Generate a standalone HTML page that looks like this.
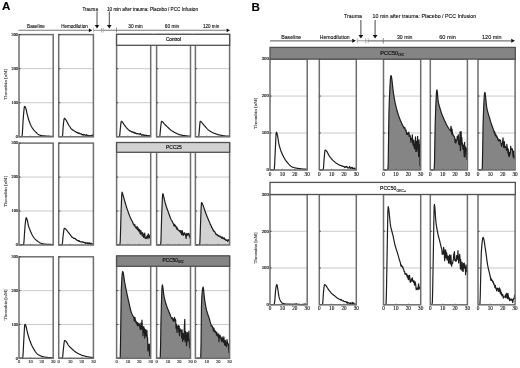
<!DOCTYPE html>
<html><head><meta charset="utf-8"><title>Thrombin generation</title>
<style>html,body{margin:0;padding:0;background:#fff;}svg{display:block;}</style>
</head><body>
<svg width="520" height="368" viewBox="0 0 520 368">
<rect x="0" y="0" width="520" height="368" fill="#fff"/>
<text x="2" y="10.3" font-size="11.6" font-family="'Liberation Sans', Arial, sans-serif" font-weight="bold" fill="#000" text-anchor="start" stroke="#000" stroke-width="0.12">A</text>
<line x1="18.5" y1="30.3" x2="89" y2="30.3" stroke="#777" stroke-width="1.1"/>
<path d="M88.9 28.4 L88.9 32.2 L92.3 30.3 Z" fill="#111"/>
<line x1="93.6" y1="27.6" x2="93.6" y2="32.4" stroke="#888" stroke-width="0.6"/>
<line x1="93.6" y1="30.3" x2="103.3" y2="30.3" stroke="#888" stroke-width="0.9"/>
<line x1="101.5" y1="28.0" x2="101.5" y2="32.6" stroke="#888" stroke-width="0.6"/>
<line x1="103.2" y1="28.0" x2="103.2" y2="32.6" stroke="#888" stroke-width="0.6"/>
<line x1="103.3" y1="30.3" x2="226.8" y2="30.3" stroke="#777" stroke-width="1.1"/>
<line x1="116.5" y1="27.5" x2="116.5" y2="32.5" stroke="#666" stroke-width="0.7"/>
<path d="M226.6 28.4 L226.6 32.2 L230 30.3 Z" fill="#111"/>
<line x1="97" y1="11.5" x2="97" y2="25.2" stroke="#333" stroke-width="0.9"/>
<path d="M94.7 24.9 L99.3 24.9 L97 28.4 Z" fill="#111"/>
<line x1="109.3" y1="11.5" x2="109.3" y2="25.3" stroke="#333" stroke-width="0.9"/>
<path d="M107 25 L111.6 25 L109.3 28.5 Z" fill="#111"/>
<text x="82.5" y="10.5" font-size="4.9" font-family="'Liberation Sans', Arial, sans-serif" font-weight="normal" fill="#111" text-anchor="start" textLength="15.4" lengthAdjust="spacingAndGlyphs" stroke="#111" stroke-width="0.12">Trauma</text>
<text x="107" y="10.6" font-size="4.9" font-family="'Liberation Sans', Arial, sans-serif" font-weight="normal" fill="#111" text-anchor="start" textLength="91" lengthAdjust="spacingAndGlyphs" stroke="#111" stroke-width="0.12">10 min after trauma: Placebo / PCC Infusion</text>
<text x="27.1" y="28.1" font-size="4.9" font-family="'Liberation Sans', Arial, sans-serif" font-weight="normal" fill="#111" text-anchor="start" textLength="17.7" lengthAdjust="spacingAndGlyphs" stroke="#111" stroke-width="0.12">Baseline</text>
<text x="61.2" y="28.1" font-size="4.9" font-family="'Liberation Sans', Arial, sans-serif" font-weight="normal" fill="#111" text-anchor="start" textLength="26.5" lengthAdjust="spacingAndGlyphs" stroke="#111" stroke-width="0.12">Hemodilution</text>
<text x="128.3" y="27.9" font-size="4.9" font-family="'Liberation Sans', Arial, sans-serif" font-weight="normal" fill="#111" text-anchor="start" textLength="14.3" lengthAdjust="spacingAndGlyphs" stroke="#111" stroke-width="0.12">30 min</text>
<text x="164.8" y="27.9" font-size="4.9" font-family="'Liberation Sans', Arial, sans-serif" font-weight="normal" fill="#111" text-anchor="start" textLength="14.4" lengthAdjust="spacingAndGlyphs" stroke="#111" stroke-width="0.12">60 min</text>
<text x="203" y="27.9" font-size="4.9" font-family="'Liberation Sans', Arial, sans-serif" font-weight="normal" fill="#111" text-anchor="start" textLength="16.2" lengthAdjust="spacingAndGlyphs" stroke="#111" stroke-width="0.12">120 min</text>
<line x1="19" y1="102.73" x2="53.2" y2="102.73" stroke="#bcbcbc" stroke-width="0.8"/>
<line x1="19" y1="68.67" x2="53.2" y2="68.67" stroke="#bcbcbc" stroke-width="0.8"/>
<line x1="30.4" y1="136.8" x2="30.4" y2="135.5" stroke="#555" stroke-width="0.6"/>
<line x1="41.8" y1="136.8" x2="41.8" y2="135.5" stroke="#555" stroke-width="0.6"/>
<path d="M19.5 136.6 L19.85 136.6 L20.2 136.59 L20.55 136.58 L20.9 136.57 L21.25 136.55 L21.6 136.53 L21.95 136.5 L22.3 134.49 L22.65 128.75 L23 121.99 L23.35 116.95 L23.7 112.89 L24.05 109.16 L24.4 106.73 L24.75 106.34 L25.1 106.71 L25.45 107.31 L25.8 108.12 L26.15 109.5 L26.5 111.2 L26.85 112.88 L27.2 114.28 L27.55 115.63 L27.9 116.97 L28.25 118.25 L28.6 119.46 L28.95 120.58 L29.3 121.57 L29.65 122.5 L30 123.39 L30.35 124.23 L30.7 125.02 L31.05 125.77 L31.4 126.45 L31.75 127.08 L32.1 127.66 L32.45 128.19 L32.8 128.69 L33.15 129.16 L33.5 129.6 L33.85 130.03 L34.2 130.43 L34.55 130.81 L34.9 131.18 L35.25 131.55 L35.6 131.9 L35.95 132.27 L36.3 132.63 L36.65 132.99 L37 133.34 L37.35 133.67 L37.7 133.98 L38.05 134.25 L38.4 134.49 L38.75 134.69 L39.1 134.84 L39.45 134.97 L39.8 135.09 L40.15 135.21 L40.5 135.31 L40.85 135.41 L41.2 135.5 L41.55 135.58 L41.9 135.65 L42.25 135.71 L42.6 135.76 L42.95 135.8 L43.3 135.83 L43.65 135.86 L44 135.89 L44.35 135.92 L44.7 135.95 L45.05 135.97 L45.4 136 L45.75 136.03 L46.1 136.05 L46.45 136.07 L46.8 136.1 L47.15 136.12 L47.5 136.14 L47.85 136.16 L48.2 136.18 L48.55 136.19 L48.9 136.21 L49.25 136.22 L49.6 136.24 L49.95 136.25 L50.3 136.26 L50.65 136.27 L51 136.28 L51.35 136.28 L51.7 136.29 L52.05 136.29 L52.4 136.3 L52.75 136.3 L53 136.3" fill="none" stroke="#1e1e1e" stroke-width="1.2" stroke-linejoin="round"/>
<rect x="19" y="34.6" width="34.2" height="102.2" fill="none" stroke="#6e6e6e" stroke-width="1.5"/>
<line x1="19" y1="102.73" x2="20.6" y2="102.73" stroke="#333" stroke-width="0.8"/>
<line x1="19" y1="68.67" x2="20.6" y2="68.67" stroke="#333" stroke-width="0.8"/>
<line x1="19" y1="34.6" x2="20.6" y2="34.6" stroke="#333" stroke-width="0.8"/>
<text x="18" y="138.1" font-size="4.3" font-family="'Liberation Serif', 'Times New Roman', serif" font-weight="normal" fill="#222" text-anchor="end" stroke="#222" stroke-width="0.18">0</text>
<text x="18" y="104.03" font-size="4.3" font-family="'Liberation Serif', 'Times New Roman', serif" font-weight="normal" fill="#222" text-anchor="end" stroke="#222" stroke-width="0.18">100</text>
<text x="18" y="69.97" font-size="4.3" font-family="'Liberation Serif', 'Times New Roman', serif" font-weight="normal" fill="#222" text-anchor="end" stroke="#222" stroke-width="0.18">200</text>
<text x="18" y="35.9" font-size="4.3" font-family="'Liberation Serif', 'Times New Roman', serif" font-weight="normal" fill="#222" text-anchor="end" stroke="#222" stroke-width="0.18">300</text>
<line x1="58.7" y1="102.73" x2="93.4" y2="102.73" stroke="#bcbcbc" stroke-width="0.8"/>
<line x1="58.7" y1="68.67" x2="93.4" y2="68.67" stroke="#bcbcbc" stroke-width="0.8"/>
<line x1="70.27" y1="136.8" x2="70.27" y2="135.5" stroke="#555" stroke-width="0.6"/>
<line x1="81.83" y1="136.8" x2="81.83" y2="135.5" stroke="#555" stroke-width="0.6"/>
<path d="M59.2 136.6 L59.55 136.6 L59.9 136.59 L60.25 136.59 L60.6 136.58 L60.95 136.56 L61.3 136.53 L61.65 136.51 L62 136.47 L62.35 136.42 L62.7 134.73 L63.05 128.18 L63.4 124.21 L63.75 121.12 L64.1 118.9 L64.45 118.2 L64.8 118.4 L65.15 118.8 L65.5 119.27 L65.85 119.74 L66.2 120.29 L66.55 120.89 L66.9 121.53 L67.25 122.18 L67.6 122.9 L67.95 123.63 L68.3 124.34 L68.65 124.95 L69 125.49 L69.35 126 L69.7 126.51 L70.05 127.03 L70.4 127.59 L70.75 128.15 L71.1 128.65 L71.45 129.07 L71.8 129.44 L72.15 129.36 L72.5 129.96 L72.85 130.11 L73.2 130.1 L73.55 130.41 L73.9 130.7 L74.25 130.77 L74.6 131.12 L74.95 131.4 L75.3 131.67 L75.65 131.7 L76 132.09 L76.35 132.4 L76.7 132.41 L77.05 132.3 L77.4 132.82 L77.75 132.66 L78.1 133.23 L78.45 132.91 L78.8 133.5 L79.15 133.32 L79.5 133.19 L79.85 133.66 L80.2 133.88 L80.55 133.91 L80.9 133.76 L81.25 133.84 L81.6 134.45 L81.95 134.46 L82.3 134.67 L82.65 134.86 L83 134.27 L83.35 134.87 L83.7 135.19 L84.05 134.78 L84.4 134.58 L84.75 135.01 L85.1 135.04 L85.45 135.29 L85.8 134.9 L86.15 134.66 L86.5 135.25 L86.85 135.22 L87.2 135.8 L87.55 135.53 L87.9 135.24 L88.25 135.59 L88.6 136.19 L88.95 136.01 L89.3 135.58 L89.65 135.7 L90 135.98 L90.35 135.76 L90.7 135.97 L91.05 135.95 L91.4 135.69 L91.75 135.65 L92.1 136.15 L92.45 134.93 L92.8 135.76 L93 135.73" fill="none" stroke="#1e1e1e" stroke-width="1.2" stroke-linejoin="round"/>
<rect x="58.7" y="34.6" width="34.7" height="102.2" fill="none" stroke="#6e6e6e" stroke-width="1.5"/>
<line x1="58.7" y1="102.73" x2="60.3" y2="102.73" stroke="#333" stroke-width="0.8"/>
<line x1="58.7" y1="68.67" x2="60.3" y2="68.67" stroke="#333" stroke-width="0.8"/>
<line x1="58.7" y1="34.6" x2="60.3" y2="34.6" stroke="#333" stroke-width="0.8"/>
<line x1="116.6" y1="102.73" x2="150.7" y2="102.73" stroke="#bcbcbc" stroke-width="0.8"/>
<line x1="116.6" y1="68.67" x2="150.7" y2="68.67" stroke="#bcbcbc" stroke-width="0.8"/>
<line x1="127.97" y1="136.8" x2="127.97" y2="135.5" stroke="#555" stroke-width="0.6"/>
<line x1="139.33" y1="136.8" x2="139.33" y2="135.5" stroke="#555" stroke-width="0.6"/>
<path d="M117.1 136.6 L117.45 136.6 L117.8 136.59 L118.15 136.58 L118.5 136.57 L118.85 136.55 L119.2 136.53 L119.55 136.44 L119.9 133.77 L120.25 129.49 L120.6 126.15 L120.95 122.86 L121.3 121.3 L121.65 121.42 L122 121.71 L122.35 122.05 L122.7 122.47 L123.05 123 L123.4 123.58 L123.75 124.14 L124.1 124.63 L124.45 125.09 L124.8 125.56 L125.15 126.02 L125.5 126.47 L125.85 126.92 L126.2 127.35 L126.55 127.77 L126.9 128.18 L127.25 128.56 L127.6 128.93 L127.95 129.27 L128.3 129.64 L128.65 129.94 L129 130.1 L129.35 130.4 L129.7 130.6 L130.05 131.1 L130.4 130.97 L130.75 131.29 L131.1 131.51 L131.45 131.98 L131.8 131.66 L132.15 131.76 L132.5 131.94 L132.85 132.31 L133.2 132.21 L133.55 132.66 L133.9 132.24 L134.25 132.96 L134.6 133.13 L134.95 132.61 L135.3 133.16 L135.65 133.42 L136 133.29 L136.35 133.5 L136.7 133.92 L137.05 133.46 L137.4 133.54 L137.75 133.52 L138.1 134.01 L138.45 133.83 L138.8 133.88 L139.15 134 L139.5 134.14 L139.85 133.77 L140.2 133.67 L140.55 133.49 L140.9 134.74 L141.25 134.61 L141.6 135.13 L141.95 134.85 L142.3 134.69 L142.65 135.17 L143 135.03 L143.35 134.75 L143.7 134.91 L144.05 135.64 L144.4 135.34 L144.75 135.3 L145.1 135.19 L145.45 135.24 L145.8 135.65 L146.15 135.26 L146.5 135.25 L146.85 135.48 L147.2 135.48 L147.55 135.87 L147.9 136.16 L148.25 135.64 L148.6 136.4 L148.95 135.7 L149.3 136.12 L149.65 135.66 L150 135.85 L150.2 135.99" fill="none" stroke="#1e1e1e" stroke-width="1.2" stroke-linejoin="round"/>
<rect x="116.6" y="34.6" width="34.1" height="102.2" fill="none" stroke="#6e6e6e" stroke-width="1.5"/>
<line x1="116.6" y1="102.73" x2="118.2" y2="102.73" stroke="#333" stroke-width="0.8"/>
<line x1="116.6" y1="68.67" x2="118.2" y2="68.67" stroke="#333" stroke-width="0.8"/>
<line x1="116.6" y1="34.6" x2="118.2" y2="34.6" stroke="#333" stroke-width="0.8"/>
<line x1="156.6" y1="102.73" x2="190.5" y2="102.73" stroke="#bcbcbc" stroke-width="0.8"/>
<line x1="156.6" y1="68.67" x2="190.5" y2="68.67" stroke="#bcbcbc" stroke-width="0.8"/>
<line x1="167.9" y1="136.8" x2="167.9" y2="135.5" stroke="#555" stroke-width="0.6"/>
<line x1="179.2" y1="136.8" x2="179.2" y2="135.5" stroke="#555" stroke-width="0.6"/>
<path d="M157.1 136.6 L157.45 136.6 L157.8 136.59 L158.15 136.59 L158.5 136.58 L158.85 136.56 L159.2 136.54 L159.55 136.51 L159.9 135.69 L160.25 131.88 L160.6 128 L160.95 124.95 L161.3 122.25 L161.65 121.3 L162 121.41 L162.35 121.62 L162.7 121.88 L163.05 122.25 L163.4 122.72 L163.75 123.19 L164.1 123.61 L164.45 123.99 L164.8 124.35 L165.15 124.71 L165.5 125.06 L165.85 125.4 L166.2 125.74 L166.55 126.07 L166.9 126.4 L167.25 126.74 L167.6 127.08 L167.95 127.42 L168.3 127.77 L168.65 128.11 L169 128.45 L169.35 128.78 L169.7 129.1 L170.05 129.42 L170.4 129.72 L170.75 130.01 L171.1 130.28 L171.45 130.54 L171.8 130.78 L172.15 131 L172.5 131.22 L172.85 131.44 L173.2 131.64 L173.55 131.84 L173.9 132.03 L174.25 132.21 L174.6 132.4 L174.95 132.57 L175.3 132.75 L175.65 132.93 L176 133.11 L176.35 133.29 L176.7 133.47 L177.05 133.64 L177.4 133.81 L177.75 133.97 L178.1 134.13 L178.45 134.28 L178.8 134.41 L179.15 134.54 L179.5 134.66 L179.85 134.76 L180.2 134.85 L180.55 134.93 L180.9 135.01 L181.25 135.09 L181.6 135.16 L181.95 135.23 L182.3 135.29 L182.65 135.36 L183 135.41 L183.35 135.47 L183.7 135.52 L184.05 135.57 L184.4 135.62 L184.75 135.67 L185.1 135.71 L185.45 135.76 L185.8 135.8 L186.15 135.84 L186.5 135.88 L186.85 135.92 L187.2 135.96 L187.55 136 L187.9 136.03 L188.25 136.07 L188.6 136.1 L188.95 136.13 L189.3 136.15 L189.65 136.18 L190 136.2 L190 136.2" fill="none" stroke="#1e1e1e" stroke-width="1.2" stroke-linejoin="round"/>
<rect x="156.6" y="34.6" width="33.9" height="102.2" fill="none" stroke="#6e6e6e" stroke-width="1.5"/>
<line x1="156.6" y1="102.73" x2="158.2" y2="102.73" stroke="#333" stroke-width="0.8"/>
<line x1="156.6" y1="68.67" x2="158.2" y2="68.67" stroke="#333" stroke-width="0.8"/>
<line x1="156.6" y1="34.6" x2="158.2" y2="34.6" stroke="#333" stroke-width="0.8"/>
<line x1="195.4" y1="102.73" x2="229.6" y2="102.73" stroke="#bcbcbc" stroke-width="0.8"/>
<line x1="195.4" y1="68.67" x2="229.6" y2="68.67" stroke="#bcbcbc" stroke-width="0.8"/>
<line x1="206.8" y1="136.8" x2="206.8" y2="135.5" stroke="#555" stroke-width="0.6"/>
<line x1="218.2" y1="136.8" x2="218.2" y2="135.5" stroke="#555" stroke-width="0.6"/>
<path d="M195.9 136.6 L196.25 136.6 L196.6 136.6 L196.95 136.59 L197.3 136.58 L197.65 136.57 L198 136.55 L198.35 136.53 L198.7 136.5 L199.05 133.9 L199.4 129.13 L199.75 125.01 L200.1 121.55 L200.45 121.36 L200.8 121.58 L201.15 121.86 L201.5 122.17 L201.85 122.56 L202.2 123 L202.55 123.45 L202.9 123.89 L203.25 124.28 L203.6 124.69 L203.95 125.09 L204.3 125.51 L204.65 125.92 L205 126.34 L205.35 126.75 L205.7 127.16 L206.05 127.56 L206.4 127.95 L206.75 128.34 L207.1 128.71 L207.45 129.07 L207.8 129.41 L208.15 129.73 L208.5 130.03 L208.85 130.31 L209.2 130.57 L209.55 130.82 L209.9 131.05 L210.25 131.28 L210.6 131.49 L210.95 131.7 L211.3 131.9 L211.65 132.09 L212 132.28 L212.35 132.45 L212.7 132.62 L213.05 132.79 L213.4 132.95 L213.75 133.1 L214.1 133.24 L214.45 133.38 L214.8 133.52 L215.15 133.65 L215.5 133.78 L215.85 133.9 L216.2 134.02 L216.55 134.13 L216.9 134.24 L217.25 134.35 L217.6 134.45 L217.95 134.55 L218.3 134.65 L218.65 134.74 L219 134.82 L219.35 134.91 L219.7 134.99 L220.05 135.08 L220.4 135.16 L220.75 135.24 L221.1 135.31 L221.45 135.39 L221.8 135.46 L222.15 135.52 L222.5 135.58 L222.85 135.64 L223.2 135.7 L223.55 135.74 L223.9 135.79 L224.25 135.83 L224.6 135.87 L224.95 135.9 L225.3 135.94 L225.65 135.98 L226 136.01 L226.35 136.04 L226.7 136.07 L227.05 136.1 L227.4 136.12 L227.75 136.15 L228.1 136.16 L228.45 136.18 L228.8 136.19 L229.1 136.2" fill="none" stroke="#1e1e1e" stroke-width="1.2" stroke-linejoin="round"/>
<rect x="195.4" y="34.6" width="34.2" height="102.2" fill="none" stroke="#6e6e6e" stroke-width="1.5"/>
<line x1="195.4" y1="102.73" x2="197" y2="102.73" stroke="#333" stroke-width="0.8"/>
<line x1="195.4" y1="68.67" x2="197" y2="68.67" stroke="#333" stroke-width="0.8"/>
<line x1="195.4" y1="34.6" x2="197" y2="34.6" stroke="#333" stroke-width="0.8"/>
<text transform="translate(7.3 84.3) rotate(-90)" font-size="4.7" font-family="'Liberation Serif', 'Times New Roman', serif" fill="#333" stroke="#333" stroke-width="0.1" text-anchor="middle" textLength="31" lengthAdjust="spacingAndGlyphs">Thrombin [nM]</text>
<line x1="19" y1="211.03" x2="53.2" y2="211.03" stroke="#bcbcbc" stroke-width="0.8"/>
<line x1="19" y1="177.07" x2="53.2" y2="177.07" stroke="#bcbcbc" stroke-width="0.8"/>
<line x1="30.4" y1="245" x2="30.4" y2="243.7" stroke="#555" stroke-width="0.6"/>
<line x1="41.8" y1="245" x2="41.8" y2="243.7" stroke="#555" stroke-width="0.6"/>
<path d="M19.5 244.8 L19.85 244.8 L20.2 244.8 L20.55 244.79 L20.9 244.78 L21.25 244.77 L21.6 244.76 L21.95 244.74 L22.3 244.72 L22.65 244.69 L23 244.66 L23.35 244.63 L23.7 244.36 L24.05 240.79 L24.4 235.08 L24.75 229.98 L25.1 225.51 L25.45 222 L25.8 219.26 L26.15 217.73 L26.5 217.99 L26.85 218.85 L27.2 219.98 L27.55 221.31 L27.9 223.12 L28.25 224.81 L28.6 226.06 L28.95 227.2 L29.3 228.24 L29.65 229.2 L30 230.11 L30.35 230.98 L30.7 231.82 L31.05 232.62 L31.4 233.37 L31.75 234.09 L32.1 234.76 L32.45 235.39 L32.8 235.98 L33.15 236.54 L33.5 237.08 L33.85 237.58 L34.2 238.04 L34.55 238.46 L34.9 238.84 L35.25 239.19 L35.6 239.52 L35.95 239.84 L36.3 240.14 L36.65 240.44 L37 240.75 L37.35 241.05 L37.7 241.35 L38.05 241.62 L38.4 241.87 L38.75 242.09 L39.1 242.3 L39.45 242.51 L39.8 242.7 L40.15 242.89 L40.5 243.06 L40.85 243.21 L41.2 243.35 L41.55 243.46 L41.9 243.55 L42.25 243.64 L42.6 243.72 L42.95 243.79 L43.3 243.86 L43.65 243.93 L44 243.99 L44.35 244.04 L44.7 244.09 L45.05 244.13 L45.4 244.17 L45.75 244.2 L46.1 244.22 L46.45 244.25 L46.8 244.27 L47.15 244.29 L47.5 244.31 L47.85 244.33 L48.2 244.35 L48.55 244.37 L48.9 244.39 L49.25 244.41 L49.6 244.42 L49.95 244.44 L50.3 244.45 L50.65 244.46 L51 244.47 L51.35 244.48 L51.7 244.49 L52.05 244.49 L52.4 244.5 L52.75 244.5 L53 244.5" fill="none" stroke="#1e1e1e" stroke-width="1.2" stroke-linejoin="round"/>
<rect x="19" y="143.1" width="34.2" height="101.9" fill="none" stroke="#6e6e6e" stroke-width="1.5"/>
<line x1="19" y1="211.03" x2="20.6" y2="211.03" stroke="#333" stroke-width="0.8"/>
<line x1="19" y1="177.07" x2="20.6" y2="177.07" stroke="#333" stroke-width="0.8"/>
<line x1="19" y1="143.1" x2="20.6" y2="143.1" stroke="#333" stroke-width="0.8"/>
<text x="18" y="246.3" font-size="4.3" font-family="'Liberation Serif', 'Times New Roman', serif" font-weight="normal" fill="#222" text-anchor="end" stroke="#222" stroke-width="0.18">0</text>
<text x="18" y="212.33" font-size="4.3" font-family="'Liberation Serif', 'Times New Roman', serif" font-weight="normal" fill="#222" text-anchor="end" stroke="#222" stroke-width="0.18">100</text>
<text x="18" y="178.37" font-size="4.3" font-family="'Liberation Serif', 'Times New Roman', serif" font-weight="normal" fill="#222" text-anchor="end" stroke="#222" stroke-width="0.18">200</text>
<text x="18" y="144.4" font-size="4.3" font-family="'Liberation Serif', 'Times New Roman', serif" font-weight="normal" fill="#222" text-anchor="end" stroke="#222" stroke-width="0.18">300</text>
<line x1="58.7" y1="211.03" x2="93.4" y2="211.03" stroke="#bcbcbc" stroke-width="0.8"/>
<line x1="58.7" y1="177.07" x2="93.4" y2="177.07" stroke="#bcbcbc" stroke-width="0.8"/>
<line x1="70.27" y1="245" x2="70.27" y2="243.7" stroke="#555" stroke-width="0.6"/>
<line x1="81.83" y1="245" x2="81.83" y2="243.7" stroke="#555" stroke-width="0.6"/>
<path d="M59.2 244.8 L59.55 244.8 L59.9 244.8 L60.25 244.79 L60.6 244.78 L60.95 244.77 L61.3 244.75 L61.65 244.73 L62 244.71 L62.35 243.73 L62.7 240.25 L63.05 236.3 L63.4 233.45 L63.75 230.66 L64.1 228.67 L64.45 228.32 L64.8 228.47 L65.15 228.7 L65.5 228.94 L65.85 229.26 L66.2 229.63 L66.55 230.05 L66.9 230.5 L67.25 230.96 L67.6 231.43 L67.95 231.89 L68.3 232.32 L68.65 232.77 L69 233.23 L69.35 233.71 L69.7 234.19 L70.05 234.54 L70.4 234.88 L70.75 235.53 L71.1 236.05 L71.45 236.28 L71.8 236.92 L72.15 237.43 L72.5 237.41 L72.85 237.55 L73.2 238 L73.55 238.18 L73.9 238.49 L74.25 238.12 L74.6 238.43 L74.95 238.61 L75.3 238.63 L75.65 239.19 L76 239.49 L76.35 239.44 L76.7 240.22 L77.05 240.28 L77.4 240.34 L77.75 240.41 L78.1 240.92 L78.45 240.53 L78.8 241.26 L79.15 241.45 L79.5 240.87 L79.85 241.62 L80.2 241.65 L80.55 241.96 L80.9 241.73 L81.25 241.85 L81.6 241.93 L81.95 241.64 L82.3 242.13 L82.65 241.94 L83 242.18 L83.35 241.91 L83.7 242.5 L84.05 242.49 L84.4 242.47 L84.75 242.83 L85.1 243.17 L85.45 243.39 L85.8 242.43 L86.15 243.21 L86.5 243.13 L86.85 243 L87.2 242.8 L87.55 243.52 L87.9 242.85 L88.25 243.49 L88.6 243.8 L88.95 242.83 L89.3 243.3 L89.65 242.99 L90 243.66 L90.35 244.01 L90.7 244.25 L91.05 243.12 L91.4 243.63 L91.75 244.1 L92.1 244.45 L92.45 244.13 L92.8 243.84 L93 244.33" fill="none" stroke="#1e1e1e" stroke-width="1.2" stroke-linejoin="round"/>
<rect x="58.7" y="143.1" width="34.7" height="101.9" fill="none" stroke="#6e6e6e" stroke-width="1.5"/>
<line x1="58.7" y1="211.03" x2="60.3" y2="211.03" stroke="#333" stroke-width="0.8"/>
<line x1="58.7" y1="177.07" x2="60.3" y2="177.07" stroke="#333" stroke-width="0.8"/>
<line x1="58.7" y1="143.1" x2="60.3" y2="143.1" stroke="#333" stroke-width="0.8"/>
<line x1="116.6" y1="211.03" x2="150.7" y2="211.03" stroke="#bcbcbc" stroke-width="0.8"/>
<line x1="116.6" y1="177.07" x2="150.7" y2="177.07" stroke="#bcbcbc" stroke-width="0.8"/>
<path d="M117.1 244.8 L117.45 244.8 L117.8 244.8 L118.15 244.79 L118.5 244.78 L118.85 244.77 L119.2 244.75 L119.55 244.73 L119.9 244.71 L120.25 241.26 L120.6 229.16 L120.95 216.38 L121.3 206.28 L121.65 196.57 L122 192.2 L122.35 192.74 L122.7 193.94 L123.05 195.16 L123.4 196.34 L123.75 197.62 L124.1 198.9 L124.45 200.11 L124.8 201.31 L125.15 202.52 L125.5 203.71 L125.85 204.9 L126.2 206.06 L126.55 207.2 L126.9 208.31 L127.25 209.39 L127.6 210.41 L127.95 211.4 L128.3 212.37 L128.65 213.32 L129 214.25 L129.35 215.15 L129.7 216.02 L130.05 216.87 L130.4 217.68 L130.75 218.46 L131.1 219.2 L131.45 219.91 L131.8 220.59 L132.15 221.24 L132.5 221.87 L132.85 222.48 L133.2 224.03 L133.55 224.01 L133.9 224.41 L134.25 225.8 L134.6 224.82 L134.95 224.89 L135.3 226.89 L135.65 227.74 L136 227.56 L136.35 227.38 L136.7 228.69 L137.05 226.4 L137.4 229.75 L137.75 229.75 L138.1 227.84 L138.45 230.45 L138.8 229.69 L139.15 231.74 L139.5 229.37 L139.85 231.12 L140.2 233.83 L140.55 234.14 L140.9 230.54 L141.25 232.67 L141.6 233.94 L141.95 233.03 L142.3 236.06 L142.65 232.61 L143 235.4 L143.35 234 L143.7 237.44 L144.05 235.66 L144.4 235.35 L144.75 233.16 L145.1 238.33 L145.45 237.48 L145.8 237.83 L146.15 238.64 L146.5 237.58 L146.85 236.06 L147.2 236.38 L147.55 235.56 L147.9 238.76 L148.25 233.75 L148.6 235.76 L148.95 236.19 L149.3 237.48 L149.65 237.87 L150 235.2 L150.2 234.29 L150.2 245 L117.1 245 Z" fill="#d2d2d2" stroke="none"/>
<line x1="127.97" y1="245" x2="127.97" y2="243.7" stroke="#555" stroke-width="0.6"/>
<line x1="139.33" y1="245" x2="139.33" y2="243.7" stroke="#555" stroke-width="0.6"/>
<path d="M117.1 244.8 L117.45 244.8 L117.8 244.8 L118.15 244.79 L118.5 244.78 L118.85 244.77 L119.2 244.75 L119.55 244.73 L119.9 244.71 L120.25 241.26 L120.6 229.16 L120.95 216.38 L121.3 206.28 L121.65 196.57 L122 192.2 L122.35 192.74 L122.7 193.94 L123.05 195.16 L123.4 196.34 L123.75 197.62 L124.1 198.9 L124.45 200.11 L124.8 201.31 L125.15 202.52 L125.5 203.71 L125.85 204.9 L126.2 206.06 L126.55 207.2 L126.9 208.31 L127.25 209.39 L127.6 210.41 L127.95 211.4 L128.3 212.37 L128.65 213.32 L129 214.25 L129.35 215.15 L129.7 216.02 L130.05 216.87 L130.4 217.68 L130.75 218.46 L131.1 219.2 L131.45 219.91 L131.8 220.59 L132.15 221.24 L132.5 221.87 L132.85 222.48 L133.2 224.03 L133.55 224.01 L133.9 224.41 L134.25 225.8 L134.6 224.82 L134.95 224.89 L135.3 226.89 L135.65 227.74 L136 227.56 L136.35 227.38 L136.7 228.69 L137.05 226.4 L137.4 229.75 L137.75 229.75 L138.1 227.84 L138.45 230.45 L138.8 229.69 L139.15 231.74 L139.5 229.37 L139.85 231.12 L140.2 233.83 L140.55 234.14 L140.9 230.54 L141.25 232.67 L141.6 233.94 L141.95 233.03 L142.3 236.06 L142.65 232.61 L143 235.4 L143.35 234 L143.7 237.44 L144.05 235.66 L144.4 235.35 L144.75 233.16 L145.1 238.33 L145.45 237.48 L145.8 237.83 L146.15 238.64 L146.5 237.58 L146.85 236.06 L147.2 236.38 L147.55 235.56 L147.9 238.76 L148.25 233.75 L148.6 235.76 L148.95 236.19 L149.3 237.48 L149.65 237.87 L150 235.2 L150.2 234.29" fill="none" stroke="#1e1e1e" stroke-width="1.2" stroke-linejoin="round"/>
<rect x="116.6" y="143.1" width="34.1" height="101.9" fill="none" stroke="#6e6e6e" stroke-width="1.5"/>
<line x1="116.6" y1="211.03" x2="118.2" y2="211.03" stroke="#333" stroke-width="0.8"/>
<line x1="116.6" y1="177.07" x2="118.2" y2="177.07" stroke="#333" stroke-width="0.8"/>
<line x1="116.6" y1="143.1" x2="118.2" y2="143.1" stroke="#333" stroke-width="0.8"/>
<line x1="156.6" y1="211.03" x2="190.5" y2="211.03" stroke="#bcbcbc" stroke-width="0.8"/>
<line x1="156.6" y1="177.07" x2="190.5" y2="177.07" stroke="#bcbcbc" stroke-width="0.8"/>
<path d="M157.1 244.8 L157.45 244.8 L157.8 244.8 L158.15 244.79 L158.5 244.79 L158.85 244.78 L159.2 244.77 L159.55 244.76 L159.9 244.75 L160.25 244.73 L160.6 244.71 L160.95 241.16 L161.3 228.84 L161.65 216.28 L162 207.35 L162.35 198.85 L162.7 193.9 L163.05 193.95 L163.4 195.26 L163.75 196.81 L164.1 198.23 L164.45 199.8 L164.8 201.32 L165.15 202.64 L165.5 203.85 L165.85 205.01 L166.2 206.11 L166.55 207.18 L166.9 208.21 L167.25 209.21 L167.6 210.19 L167.95 211.16 L168.3 212.12 L168.65 213.09 L169 214.07 L169.35 215.04 L169.7 216.01 L170.05 216.95 L170.4 217.86 L170.75 218.74 L171.1 219.55 L171.45 220.31 L171.8 221 L172.15 221.08 L172.5 221.65 L172.85 222.71 L173.2 223.52 L173.55 223.76 L173.9 225.9 L174.25 224.37 L174.6 224.91 L174.95 226.05 L175.3 225.29 L175.65 226.3 L176 227.05 L176.35 228.11 L176.7 226.87 L177.05 229.42 L177.4 228.15 L177.75 229.18 L178.1 229.88 L178.45 230.09 L178.8 230.79 L179.15 230.41 L179.5 230.52 L179.85 231.61 L180.2 230.58 L180.55 232.56 L180.9 230.82 L181.25 231 L181.6 234.57 L181.95 232.34 L182.3 230.68 L182.65 234.56 L183 233.31 L183.35 235.41 L183.7 233.04 L184.05 234.29 L184.4 233.05 L184.75 232.82 L185.1 233.96 L185.45 235.01 L185.8 236.07 L186.15 238.47 L186.5 233.67 L186.85 235.41 L187.2 234.25 L187.55 235.12 L187.9 233.35 L188.25 233.41 L188.6 234.39 L188.95 233.51 L189.3 236.49 L189.65 235.11 L190 237.85 L190 236.24 L190 245 L157.1 245 Z" fill="#d2d2d2" stroke="none"/>
<line x1="167.9" y1="245" x2="167.9" y2="243.7" stroke="#555" stroke-width="0.6"/>
<line x1="179.2" y1="245" x2="179.2" y2="243.7" stroke="#555" stroke-width="0.6"/>
<path d="M157.1 244.8 L157.45 244.8 L157.8 244.8 L158.15 244.79 L158.5 244.79 L158.85 244.78 L159.2 244.77 L159.55 244.76 L159.9 244.75 L160.25 244.73 L160.6 244.71 L160.95 241.16 L161.3 228.84 L161.65 216.28 L162 207.35 L162.35 198.85 L162.7 193.9 L163.05 193.95 L163.4 195.26 L163.75 196.81 L164.1 198.23 L164.45 199.8 L164.8 201.32 L165.15 202.64 L165.5 203.85 L165.85 205.01 L166.2 206.11 L166.55 207.18 L166.9 208.21 L167.25 209.21 L167.6 210.19 L167.95 211.16 L168.3 212.12 L168.65 213.09 L169 214.07 L169.35 215.04 L169.7 216.01 L170.05 216.95 L170.4 217.86 L170.75 218.74 L171.1 219.55 L171.45 220.31 L171.8 221 L172.15 221.08 L172.5 221.65 L172.85 222.71 L173.2 223.52 L173.55 223.76 L173.9 225.9 L174.25 224.37 L174.6 224.91 L174.95 226.05 L175.3 225.29 L175.65 226.3 L176 227.05 L176.35 228.11 L176.7 226.87 L177.05 229.42 L177.4 228.15 L177.75 229.18 L178.1 229.88 L178.45 230.09 L178.8 230.79 L179.15 230.41 L179.5 230.52 L179.85 231.61 L180.2 230.58 L180.55 232.56 L180.9 230.82 L181.25 231 L181.6 234.57 L181.95 232.34 L182.3 230.68 L182.65 234.56 L183 233.31 L183.35 235.41 L183.7 233.04 L184.05 234.29 L184.4 233.05 L184.75 232.82 L185.1 233.96 L185.45 235.01 L185.8 236.07 L186.15 238.47 L186.5 233.67 L186.85 235.41 L187.2 234.25 L187.55 235.12 L187.9 233.35 L188.25 233.41 L188.6 234.39 L188.95 233.51 L189.3 236.49 L189.65 235.11 L190 237.85 L190 236.24" fill="none" stroke="#1e1e1e" stroke-width="1.2" stroke-linejoin="round"/>
<rect x="156.6" y="143.1" width="33.9" height="101.9" fill="none" stroke="#6e6e6e" stroke-width="1.5"/>
<line x1="156.6" y1="211.03" x2="158.2" y2="211.03" stroke="#333" stroke-width="0.8"/>
<line x1="156.6" y1="177.07" x2="158.2" y2="177.07" stroke="#333" stroke-width="0.8"/>
<line x1="156.6" y1="143.1" x2="158.2" y2="143.1" stroke="#333" stroke-width="0.8"/>
<line x1="195.4" y1="211.03" x2="229.6" y2="211.03" stroke="#bcbcbc" stroke-width="0.8"/>
<line x1="195.4" y1="177.07" x2="229.6" y2="177.07" stroke="#bcbcbc" stroke-width="0.8"/>
<path d="M195.9 244.8 L196.25 244.8 L196.6 244.8 L196.95 244.8 L197.3 244.79 L197.65 244.78 L198 244.78 L198.35 244.77 L198.7 244.75 L199.05 244.74 L199.4 244.72 L199.75 244.56 L200.1 237.52 L200.45 226.1 L200.8 216.74 L201.15 207.19 L201.5 202.6 L201.85 202.85 L202.2 203.43 L202.55 204.09 L202.9 204.9 L203.25 205.89 L203.6 206.93 L203.95 207.92 L204.3 208.94 L204.65 209.98 L205 211.02 L205.35 212.03 L205.7 213 L206.05 213.92 L206.4 214.83 L206.75 215.71 L207.1 216.57 L207.45 217.42 L207.8 218.26 L208.15 219.08 L208.5 219.9 L208.85 220.72 L209.2 221.55 L209.55 222.39 L209.9 223.22 L210.25 224.44 L210.6 224.44 L210.95 225.85 L211.3 226.24 L211.65 227.33 L212 227.86 L212.35 228.03 L212.7 229.35 L213.05 229.77 L213.4 230.84 L213.75 230.46 L214.1 231.55 L214.45 231.44 L214.8 232 L215.15 232.29 L215.5 233.68 L215.85 233.58 L216.2 234.71 L216.55 234.44 L216.9 234.8 L217.25 235.17 L217.6 234.75 L217.95 235.39 L218.3 236.22 L218.65 235.54 L219 236.09 L219.35 236.22 L219.7 236.64 L220.05 236.04 L220.4 236.49 L220.75 237.1 L221.1 237.25 L221.45 237.03 L221.8 238.4 L222.15 237.2 L222.5 237.57 L222.85 237.41 L223.2 238.79 L223.55 238.33 L223.9 237.99 L224.25 237.86 L224.6 239.49 L224.95 239.14 L225.3 239.13 L225.65 240.19 L226 239.62 L226.35 240.19 L226.7 240.45 L227.05 240.04 L227.4 240.17 L227.75 241.42 L228.1 240.53 L228.45 239.74 L228.8 239.6 L229.1 240.86 L229.1 245 L195.9 245 Z" fill="#d2d2d2" stroke="none"/>
<line x1="206.8" y1="245" x2="206.8" y2="243.7" stroke="#555" stroke-width="0.6"/>
<line x1="218.2" y1="245" x2="218.2" y2="243.7" stroke="#555" stroke-width="0.6"/>
<path d="M195.9 244.8 L196.25 244.8 L196.6 244.8 L196.95 244.8 L197.3 244.79 L197.65 244.78 L198 244.78 L198.35 244.77 L198.7 244.75 L199.05 244.74 L199.4 244.72 L199.75 244.56 L200.1 237.52 L200.45 226.1 L200.8 216.74 L201.15 207.19 L201.5 202.6 L201.85 202.85 L202.2 203.43 L202.55 204.09 L202.9 204.9 L203.25 205.89 L203.6 206.93 L203.95 207.92 L204.3 208.94 L204.65 209.98 L205 211.02 L205.35 212.03 L205.7 213 L206.05 213.92 L206.4 214.83 L206.75 215.71 L207.1 216.57 L207.45 217.42 L207.8 218.26 L208.15 219.08 L208.5 219.9 L208.85 220.72 L209.2 221.55 L209.55 222.39 L209.9 223.22 L210.25 224.44 L210.6 224.44 L210.95 225.85 L211.3 226.24 L211.65 227.33 L212 227.86 L212.35 228.03 L212.7 229.35 L213.05 229.77 L213.4 230.84 L213.75 230.46 L214.1 231.55 L214.45 231.44 L214.8 232 L215.15 232.29 L215.5 233.68 L215.85 233.58 L216.2 234.71 L216.55 234.44 L216.9 234.8 L217.25 235.17 L217.6 234.75 L217.95 235.39 L218.3 236.22 L218.65 235.54 L219 236.09 L219.35 236.22 L219.7 236.64 L220.05 236.04 L220.4 236.49 L220.75 237.1 L221.1 237.25 L221.45 237.03 L221.8 238.4 L222.15 237.2 L222.5 237.57 L222.85 237.41 L223.2 238.79 L223.55 238.33 L223.9 237.99 L224.25 237.86 L224.6 239.49 L224.95 239.14 L225.3 239.13 L225.65 240.19 L226 239.62 L226.35 240.19 L226.7 240.45 L227.05 240.04 L227.4 240.17 L227.75 241.42 L228.1 240.53 L228.45 239.74 L228.8 239.6 L229.1 240.86" fill="none" stroke="#1e1e1e" stroke-width="1.2" stroke-linejoin="round"/>
<rect x="195.4" y="143.1" width="34.2" height="101.9" fill="none" stroke="#6e6e6e" stroke-width="1.5"/>
<line x1="195.4" y1="211.03" x2="197" y2="211.03" stroke="#333" stroke-width="0.8"/>
<line x1="195.4" y1="177.07" x2="197" y2="177.07" stroke="#333" stroke-width="0.8"/>
<line x1="195.4" y1="143.1" x2="197" y2="143.1" stroke="#333" stroke-width="0.8"/>
<text transform="translate(7.3 191.4) rotate(-90)" font-size="4.7" font-family="'Liberation Serif', 'Times New Roman', serif" fill="#333" stroke="#333" stroke-width="0.1" text-anchor="middle" textLength="31" lengthAdjust="spacingAndGlyphs">Thrombin [nM]</text>
<line x1="19" y1="324.47" x2="53.2" y2="324.47" stroke="#bcbcbc" stroke-width="0.8"/>
<line x1="19" y1="290.63" x2="53.2" y2="290.63" stroke="#bcbcbc" stroke-width="0.8"/>
<line x1="30.4" y1="358.3" x2="30.4" y2="357" stroke="#555" stroke-width="0.6"/>
<line x1="41.8" y1="358.3" x2="41.8" y2="357" stroke="#555" stroke-width="0.6"/>
<path d="M19.5 358.1 L19.85 358.1 L20.2 358.1 L20.55 358.09 L20.9 358.08 L21.25 358.08 L21.6 358.06 L21.95 358.05 L22.3 358.03 L22.65 358 L23 355.61 L23.35 348.97 L23.7 341.68 L24.05 335.64 L24.4 329.13 L24.75 324.73 L25.1 324.31 L25.45 324.89 L25.8 325.75 L26.15 326.8 L26.5 328.34 L26.85 330.05 L27.2 331.6 L27.55 332.94 L27.9 334.26 L28.25 335.54 L28.6 336.77 L28.95 337.95 L29.3 339.06 L29.65 340.09 L30 341.04 L30.35 341.94 L30.7 342.82 L31.05 343.66 L31.4 344.47 L31.75 345.24 L32.1 345.99 L32.45 346.69 L32.8 347.37 L33.15 348.02 L33.5 348.63 L33.85 349.22 L34.2 349.8 L34.55 350.38 L34.9 350.94 L35.25 351.48 L35.6 351.99 L35.95 352.47 L36.3 352.92 L36.65 353.32 L37 353.67 L37.35 353.96 L37.7 354.22 L38.05 354.46 L38.4 354.68 L38.75 354.9 L39.1 355.1 L39.45 355.29 L39.8 355.47 L40.15 355.64 L40.5 355.79 L40.85 355.94 L41.2 356.07 L41.55 356.2 L41.9 356.32 L42.25 356.43 L42.6 356.53 L42.95 356.62 L43.3 356.72 L43.65 356.8 L44 356.89 L44.35 356.97 L44.7 357.04 L45.05 357.11 L45.4 357.17 L45.75 357.23 L46.1 357.29 L46.45 357.34 L46.8 357.38 L47.15 357.42 L47.5 357.45 L47.85 357.49 L48.2 357.52 L48.55 357.55 L48.9 357.59 L49.25 357.62 L49.6 357.65 L49.95 357.67 L50.3 357.7 L50.65 357.72 L51 357.74 L51.35 357.76 L51.7 357.77 L52.05 357.79 L52.4 357.79 L52.75 357.8 L53 357.8" fill="none" stroke="#1e1e1e" stroke-width="1.2" stroke-linejoin="round"/>
<rect x="19" y="256.8" width="34.2" height="101.5" fill="none" stroke="#6e6e6e" stroke-width="1.5"/>
<line x1="19" y1="324.47" x2="20.6" y2="324.47" stroke="#333" stroke-width="0.8"/>
<line x1="19" y1="290.63" x2="20.6" y2="290.63" stroke="#333" stroke-width="0.8"/>
<line x1="19" y1="256.8" x2="20.6" y2="256.8" stroke="#333" stroke-width="0.8"/>
<text x="19" y="363.3" font-size="4.5" font-family="'Liberation Serif', 'Times New Roman', serif" font-weight="normal" fill="#3a3a3a" text-anchor="middle" stroke="#3a3a3a" stroke-width="0.15">0</text>
<text x="30.4" y="363.3" font-size="4.5" font-family="'Liberation Serif', 'Times New Roman', serif" font-weight="normal" fill="#3a3a3a" text-anchor="middle" stroke="#3a3a3a" stroke-width="0.15">10</text>
<text x="41.8" y="363.3" font-size="4.5" font-family="'Liberation Serif', 'Times New Roman', serif" font-weight="normal" fill="#3a3a3a" text-anchor="middle" stroke="#3a3a3a" stroke-width="0.15">20</text>
<text x="53.2" y="363.3" font-size="4.5" font-family="'Liberation Serif', 'Times New Roman', serif" font-weight="normal" fill="#3a3a3a" text-anchor="middle" stroke="#3a3a3a" stroke-width="0.15">30</text>
<text x="18" y="359.6" font-size="4.3" font-family="'Liberation Serif', 'Times New Roman', serif" font-weight="normal" fill="#222" text-anchor="end" stroke="#222" stroke-width="0.18">0</text>
<text x="18" y="325.77" font-size="4.3" font-family="'Liberation Serif', 'Times New Roman', serif" font-weight="normal" fill="#222" text-anchor="end" stroke="#222" stroke-width="0.18">100</text>
<text x="18" y="291.93" font-size="4.3" font-family="'Liberation Serif', 'Times New Roman', serif" font-weight="normal" fill="#222" text-anchor="end" stroke="#222" stroke-width="0.18">200</text>
<text x="18" y="258.1" font-size="4.3" font-family="'Liberation Serif', 'Times New Roman', serif" font-weight="normal" fill="#222" text-anchor="end" stroke="#222" stroke-width="0.18">300</text>
<line x1="58.7" y1="324.47" x2="93.4" y2="324.47" stroke="#bcbcbc" stroke-width="0.8"/>
<line x1="58.7" y1="290.63" x2="93.4" y2="290.63" stroke="#bcbcbc" stroke-width="0.8"/>
<line x1="70.27" y1="358.3" x2="70.27" y2="357" stroke="#555" stroke-width="0.6"/>
<line x1="81.83" y1="358.3" x2="81.83" y2="357" stroke="#555" stroke-width="0.6"/>
<path d="M59.2 358.1 L59.55 358.1 L59.9 358.1 L60.25 358.09 L60.6 358.08 L60.95 358.08 L61.3 358.06 L61.65 358.05 L62 358.03 L62.35 358 L62.7 356.63 L63.05 352.87 L63.4 348.88 L63.75 345.85 L64.1 342.77 L64.45 340.74 L64.8 340.53 L65.15 340.69 L65.5 340.93 L65.85 341.21 L66.2 341.6 L66.55 342.08 L66.9 342.64 L67.25 343.23 L67.6 343.85 L67.95 344.45 L68.3 345.01 L68.65 345.51 L69 345.94 L69.35 346.34 L69.7 346.73 L70.05 347.1 L70.4 347.46 L70.75 347.81 L71.1 348.15 L71.45 348.48 L71.8 348.8 L72.15 349.11 L72.5 349.41 L72.85 349.71 L73.2 350.01 L73.55 350.31 L73.9 350.6 L74.25 350.89 L74.6 351.18 L74.95 351.45 L75.3 351.72 L75.65 351.99 L76 352.24 L76.35 352.48 L76.7 352.71 L77.05 352.93 L77.4 353.14 L77.75 353.33 L78.1 353.51 L78.45 353.69 L78.8 353.87 L79.15 354.04 L79.5 354.2 L79.85 354.37 L80.2 354.52 L80.55 354.67 L80.9 354.82 L81.25 354.96 L81.6 355.1 L81.95 355.23 L82.3 355.36 L82.65 355.47 L83 355.59 L83.35 355.69 L83.7 355.79 L84.05 355.89 L84.4 355.98 L84.75 356.06 L85.1 356.15 L85.45 356.24 L85.8 356.32 L86.15 356.41 L86.5 356.49 L86.85 356.57 L87.2 356.65 L87.55 356.72 L87.9 356.8 L88.25 356.87 L88.6 356.94 L88.95 357.01 L89.3 357.07 L89.65 357.13 L90 357.18 L90.35 357.24 L90.7 357.29 L91.05 357.33 L91.4 357.37 L91.75 357.41 L92.1 357.44 L92.45 357.47 L92.8 357.49 L93 357.5" fill="none" stroke="#1e1e1e" stroke-width="1.2" stroke-linejoin="round"/>
<rect x="58.7" y="256.8" width="34.7" height="101.5" fill="none" stroke="#6e6e6e" stroke-width="1.5"/>
<line x1="58.7" y1="324.47" x2="60.3" y2="324.47" stroke="#333" stroke-width="0.8"/>
<line x1="58.7" y1="290.63" x2="60.3" y2="290.63" stroke="#333" stroke-width="0.8"/>
<line x1="58.7" y1="256.8" x2="60.3" y2="256.8" stroke="#333" stroke-width="0.8"/>
<text x="58.7" y="363.3" font-size="4.5" font-family="'Liberation Serif', 'Times New Roman', serif" font-weight="normal" fill="#3a3a3a" text-anchor="middle" stroke="#3a3a3a" stroke-width="0.15">0</text>
<text x="70.27" y="363.3" font-size="4.5" font-family="'Liberation Serif', 'Times New Roman', serif" font-weight="normal" fill="#3a3a3a" text-anchor="middle" stroke="#3a3a3a" stroke-width="0.15">10</text>
<text x="81.83" y="363.3" font-size="4.5" font-family="'Liberation Serif', 'Times New Roman', serif" font-weight="normal" fill="#3a3a3a" text-anchor="middle" stroke="#3a3a3a" stroke-width="0.15">20</text>
<text x="93.4" y="363.3" font-size="4.5" font-family="'Liberation Serif', 'Times New Roman', serif" font-weight="normal" fill="#3a3a3a" text-anchor="middle" stroke="#3a3a3a" stroke-width="0.15">30</text>
<line x1="116.6" y1="324.47" x2="150.7" y2="324.47" stroke="#bcbcbc" stroke-width="0.8"/>
<line x1="116.6" y1="290.63" x2="150.7" y2="290.63" stroke="#bcbcbc" stroke-width="0.8"/>
<path d="M117.1 358.1 L117.45 358.1 L117.8 358.1 L118.15 358.09 L118.5 358.09 L118.85 358.08 L119.2 358.06 L119.55 358.05 L119.9 358.02 L120.25 357.56 L120.6 338.32 L120.95 312.88 L121.3 290 L121.65 282.23 L122 276.42 L122.35 272.77 L122.7 271.5 L123.05 272.09 L123.4 273.64 L123.75 275.82 L124.1 278.31 L124.45 280.78 L124.8 282.9 L125.15 284.74 L125.5 286.57 L125.85 288.36 L126.2 290.12 L126.55 291.82 L126.9 293.49 L127.25 295.13 L127.6 296.74 L127.95 298.32 L128.3 299.88 L128.65 301.42 L129 302.93 L129.35 304.5 L129.7 306.09 L130.05 307.66 L130.4 309.16 L130.75 310.53 L131.1 311.72 L131.45 312.7 L131.8 313.55 L132.15 314.31 L132.5 315.01 L132.85 315.66 L133.2 316.28 L133.55 316.88 L133.9 317.49 L134.25 320.91 L134.6 319.75 L134.95 317.44 L135.3 320.29 L135.65 322.15 L136 321.1 L136.35 323.28 L136.7 322.05 L137.05 323.47 L137.4 325.64 L137.75 322.76 L138.1 325.18 L138.45 323.56 L138.8 325.76 L139.15 323.73 L139.5 325.52 L139.85 327.22 L140.2 329.17 L140.55 329.5 L140.9 323.19 L141.25 324.74 L141.6 328.86 L141.95 320.1 L142.3 326.46 L142.65 328.19 L143 335.58 L143.35 331.87 L143.7 326.52 L144.05 327.88 L144.4 329.02 L144.75 338.08 L145.1 329.31 L145.45 330.18 L145.8 335.32 L146.15 336.01 L146.5 334.35 L146.85 330.15 L147.2 337.51 L147.55 337.4 L147.9 350.93 L148.25 350.04 L148.6 344.41 L148.95 348.74 L149.3 344.08 L149.65 355.99 L150 346.51 L150.2 350.66 L150.2 358.3 L117.1 358.3 Z" fill="#858585" stroke="none"/>
<line x1="127.97" y1="358.3" x2="127.97" y2="357" stroke="#555" stroke-width="0.6"/>
<line x1="139.33" y1="358.3" x2="139.33" y2="357" stroke="#555" stroke-width="0.6"/>
<path d="M117.1 358.1 L117.45 358.1 L117.8 358.1 L118.15 358.09 L118.5 358.09 L118.85 358.08 L119.2 358.06 L119.55 358.05 L119.9 358.02 L120.25 357.56 L120.6 338.32 L120.95 312.88 L121.3 290 L121.65 282.23 L122 276.42 L122.35 272.77 L122.7 271.5 L123.05 272.09 L123.4 273.64 L123.75 275.82 L124.1 278.31 L124.45 280.78 L124.8 282.9 L125.15 284.74 L125.5 286.57 L125.85 288.36 L126.2 290.12 L126.55 291.82 L126.9 293.49 L127.25 295.13 L127.6 296.74 L127.95 298.32 L128.3 299.88 L128.65 301.42 L129 302.93 L129.35 304.5 L129.7 306.09 L130.05 307.66 L130.4 309.16 L130.75 310.53 L131.1 311.72 L131.45 312.7 L131.8 313.55 L132.15 314.31 L132.5 315.01 L132.85 315.66 L133.2 316.28 L133.55 316.88 L133.9 317.49 L134.25 320.91 L134.6 319.75 L134.95 317.44 L135.3 320.29 L135.65 322.15 L136 321.1 L136.35 323.28 L136.7 322.05 L137.05 323.47 L137.4 325.64 L137.75 322.76 L138.1 325.18 L138.45 323.56 L138.8 325.76 L139.15 323.73 L139.5 325.52 L139.85 327.22 L140.2 329.17 L140.55 329.5 L140.9 323.19 L141.25 324.74 L141.6 328.86 L141.95 320.1 L142.3 326.46 L142.65 328.19 L143 335.58 L143.35 331.87 L143.7 326.52 L144.05 327.88 L144.4 329.02 L144.75 338.08 L145.1 329.31 L145.45 330.18 L145.8 335.32 L146.15 336.01 L146.5 334.35 L146.85 330.15 L147.2 337.51 L147.55 337.4 L147.9 350.93 L148.25 350.04 L148.6 344.41 L148.95 348.74 L149.3 344.08 L149.65 355.99 L150 346.51 L150.2 350.66" fill="none" stroke="#1e1e1e" stroke-width="1.2" stroke-linejoin="round"/>
<rect x="116.6" y="256.8" width="34.1" height="101.5" fill="none" stroke="#6e6e6e" stroke-width="1.5"/>
<line x1="116.6" y1="324.47" x2="118.2" y2="324.47" stroke="#333" stroke-width="0.8"/>
<line x1="116.6" y1="290.63" x2="118.2" y2="290.63" stroke="#333" stroke-width="0.8"/>
<line x1="116.6" y1="256.8" x2="118.2" y2="256.8" stroke="#333" stroke-width="0.8"/>
<text x="116.6" y="363.3" font-size="4.5" font-family="'Liberation Serif', 'Times New Roman', serif" font-weight="normal" fill="#3a3a3a" text-anchor="middle" stroke="#3a3a3a" stroke-width="0.15">0</text>
<text x="127.97" y="363.3" font-size="4.5" font-family="'Liberation Serif', 'Times New Roman', serif" font-weight="normal" fill="#3a3a3a" text-anchor="middle" stroke="#3a3a3a" stroke-width="0.15">10</text>
<text x="139.33" y="363.3" font-size="4.5" font-family="'Liberation Serif', 'Times New Roman', serif" font-weight="normal" fill="#3a3a3a" text-anchor="middle" stroke="#3a3a3a" stroke-width="0.15">20</text>
<text x="150.7" y="363.3" font-size="4.5" font-family="'Liberation Serif', 'Times New Roman', serif" font-weight="normal" fill="#3a3a3a" text-anchor="middle" stroke="#3a3a3a" stroke-width="0.15">30</text>
<line x1="156.6" y1="324.47" x2="190.5" y2="324.47" stroke="#bcbcbc" stroke-width="0.8"/>
<line x1="156.6" y1="290.63" x2="190.5" y2="290.63" stroke="#bcbcbc" stroke-width="0.8"/>
<path d="M157.1 358.1 L157.45 358.1 L157.8 358.1 L158.15 358.09 L158.5 358.09 L158.85 358.08 L159.2 358.06 L159.55 358.05 L159.9 358.03 L160.25 358 L160.6 345.78 L160.95 322.17 L161.3 308.61 L161.65 296.33 L162 287.57 L162.35 284.82 L162.7 286.04 L163.05 288.59 L163.4 291.71 L163.75 294.64 L164.1 296.68 L164.45 298.27 L164.8 299.72 L165.15 301.06 L165.5 302.3 L165.85 303.47 L166.2 304.58 L166.55 305.65 L166.9 306.66 L167.25 307.61 L167.6 308.51 L167.95 309.38 L168.3 310.23 L168.65 311.08 L169 311.95 L169.35 312.83 L169.7 313.71 L170.05 314.59 L170.4 315.44 L170.75 316.25 L171.1 317 L171.45 317.69 L171.8 318.35 L172.15 317.51 L172.5 319.47 L172.85 319.36 L173.2 321.04 L173.55 321.25 L173.9 318.41 L174.25 319.02 L174.6 317.45 L174.95 321.1 L175.3 319.38 L175.65 320.11 L176 328.31 L176.35 324.19 L176.7 328.09 L177.05 332.37 L177.4 328.75 L177.75 325.9 L178.1 325.98 L178.45 325.68 L178.8 331.89 L179.15 326.08 L179.5 335.76 L179.85 328.53 L180.2 329.74 L180.55 329.98 L180.9 331.31 L181.25 330.84 L181.6 337.88 L181.95 329.48 L182.3 334.08 L182.65 341.49 L183 333.48 L183.35 335.56 L183.7 339.52 L184.05 334.04 L184.4 325.96 L184.75 319.46 L185.1 341.8 L185.45 331.44 L185.8 340.11 L186.15 332.37 L186.5 345.65 L186.85 340.4 L187.2 337.69 L187.55 332.68 L187.9 340.87 L188.25 335.38 L188.6 338.16 L188.95 331.13 L189.3 342.75 L189.65 347.97 L190 339.56 L190 348.44 L190 358.3 L157.1 358.3 Z" fill="#858585" stroke="none"/>
<line x1="167.9" y1="358.3" x2="167.9" y2="357" stroke="#555" stroke-width="0.6"/>
<line x1="179.2" y1="358.3" x2="179.2" y2="357" stroke="#555" stroke-width="0.6"/>
<path d="M157.1 358.1 L157.45 358.1 L157.8 358.1 L158.15 358.09 L158.5 358.09 L158.85 358.08 L159.2 358.06 L159.55 358.05 L159.9 358.03 L160.25 358 L160.6 345.78 L160.95 322.17 L161.3 308.61 L161.65 296.33 L162 287.57 L162.35 284.82 L162.7 286.04 L163.05 288.59 L163.4 291.71 L163.75 294.64 L164.1 296.68 L164.45 298.27 L164.8 299.72 L165.15 301.06 L165.5 302.3 L165.85 303.47 L166.2 304.58 L166.55 305.65 L166.9 306.66 L167.25 307.61 L167.6 308.51 L167.95 309.38 L168.3 310.23 L168.65 311.08 L169 311.95 L169.35 312.83 L169.7 313.71 L170.05 314.59 L170.4 315.44 L170.75 316.25 L171.1 317 L171.45 317.69 L171.8 318.35 L172.15 317.51 L172.5 319.47 L172.85 319.36 L173.2 321.04 L173.55 321.25 L173.9 318.41 L174.25 319.02 L174.6 317.45 L174.95 321.1 L175.3 319.38 L175.65 320.11 L176 328.31 L176.35 324.19 L176.7 328.09 L177.05 332.37 L177.4 328.75 L177.75 325.9 L178.1 325.98 L178.45 325.68 L178.8 331.89 L179.15 326.08 L179.5 335.76 L179.85 328.53 L180.2 329.74 L180.55 329.98 L180.9 331.31 L181.25 330.84 L181.6 337.88 L181.95 329.48 L182.3 334.08 L182.65 341.49 L183 333.48 L183.35 335.56 L183.7 339.52 L184.05 334.04 L184.4 325.96 L184.75 319.46 L185.1 341.8 L185.45 331.44 L185.8 340.11 L186.15 332.37 L186.5 345.65 L186.85 340.4 L187.2 337.69 L187.55 332.68 L187.9 340.87 L188.25 335.38 L188.6 338.16 L188.95 331.13 L189.3 342.75 L189.65 347.97 L190 339.56 L190 348.44" fill="none" stroke="#1e1e1e" stroke-width="1.2" stroke-linejoin="round"/>
<rect x="156.6" y="256.8" width="33.9" height="101.5" fill="none" stroke="#6e6e6e" stroke-width="1.5"/>
<line x1="156.6" y1="324.47" x2="158.2" y2="324.47" stroke="#333" stroke-width="0.8"/>
<line x1="156.6" y1="290.63" x2="158.2" y2="290.63" stroke="#333" stroke-width="0.8"/>
<line x1="156.6" y1="256.8" x2="158.2" y2="256.8" stroke="#333" stroke-width="0.8"/>
<text x="156.6" y="363.3" font-size="4.5" font-family="'Liberation Serif', 'Times New Roman', serif" font-weight="normal" fill="#3a3a3a" text-anchor="middle" stroke="#3a3a3a" stroke-width="0.15">0</text>
<text x="167.9" y="363.3" font-size="4.5" font-family="'Liberation Serif', 'Times New Roman', serif" font-weight="normal" fill="#3a3a3a" text-anchor="middle" stroke="#3a3a3a" stroke-width="0.15">10</text>
<text x="179.2" y="363.3" font-size="4.5" font-family="'Liberation Serif', 'Times New Roman', serif" font-weight="normal" fill="#3a3a3a" text-anchor="middle" stroke="#3a3a3a" stroke-width="0.15">20</text>
<text x="190.5" y="363.3" font-size="4.5" font-family="'Liberation Serif', 'Times New Roman', serif" font-weight="normal" fill="#3a3a3a" text-anchor="middle" stroke="#3a3a3a" stroke-width="0.15">30</text>
<line x1="195.4" y1="324.47" x2="229.6" y2="324.47" stroke="#bcbcbc" stroke-width="0.8"/>
<line x1="195.4" y1="290.63" x2="229.6" y2="290.63" stroke="#bcbcbc" stroke-width="0.8"/>
<path d="M196.9 358.1 L197.25 358.1 L197.6 358.1 L197.95 358.1 L198.3 358.09 L198.65 358.09 L199 358.08 L199.35 358.07 L199.7 358.06 L200.05 358.04 L200.4 358.02 L200.75 358 L201.1 340.76 L201.45 306.93 L201.8 297.01 L202.15 292.7 L202.5 289.6 L202.85 287.73 L203.2 287.1 L203.55 289.06 L203.9 293.15 L204.25 296.69 L204.6 299.34 L204.95 301.76 L205.3 303.9 L205.65 305.83 L206 307.62 L206.35 309.26 L206.7 310.73 L207.05 312.04 L207.4 313.19 L207.75 314.22 L208.1 315.19 L208.45 316.14 L208.8 317.11 L209.15 318.16 L209.5 319.29 L209.85 320.47 L210.2 322.3 L210.55 322.92 L210.9 324.4 L211.25 326.11 L211.6 325.72 L211.95 325.74 L212.3 326.22 L212.65 327.92 L213 327.99 L213.35 330.89 L213.7 327.93 L214.05 328.87 L214.4 330.68 L214.75 332.19 L215.1 331.23 L215.45 330.94 L215.8 331.73 L216.15 333.09 L216.5 335.07 L216.85 332.44 L217.2 334.62 L217.55 334.45 L217.9 336.28 L218.25 337.1 L218.6 333.87 L218.95 341.65 L219.3 337.56 L219.65 336.06 L220 335.16 L220.35 336.87 L220.7 337.97 L221.05 339.91 L221.4 339.56 L221.75 341.68 L222.1 336.82 L222.45 338.92 L222.8 338.43 L223.15 341.46 L223.5 342.41 L223.85 336.74 L224.2 340.75 L224.55 344.56 L224.9 345.07 L225.25 340.35 L225.6 345.39 L225.95 344.7 L226.3 342.33 L226.65 346.68 L227 339.64 L227.35 341.94 L227.7 344.02 L228.05 344.08 L228.4 343.81 L228.75 350.55 L229.1 353.14 L229.1 358.3 L196.9 358.3 Z" fill="#858585" stroke="none"/>
<line x1="206.8" y1="358.3" x2="206.8" y2="357" stroke="#555" stroke-width="0.6"/>
<line x1="218.2" y1="358.3" x2="218.2" y2="357" stroke="#555" stroke-width="0.6"/>
<path d="M196.9 358.1 L197.25 358.1 L197.6 358.1 L197.95 358.1 L198.3 358.09 L198.65 358.09 L199 358.08 L199.35 358.07 L199.7 358.06 L200.05 358.04 L200.4 358.02 L200.75 358 L201.1 340.76 L201.45 306.93 L201.8 297.01 L202.15 292.7 L202.5 289.6 L202.85 287.73 L203.2 287.1 L203.55 289.06 L203.9 293.15 L204.25 296.69 L204.6 299.34 L204.95 301.76 L205.3 303.9 L205.65 305.83 L206 307.62 L206.35 309.26 L206.7 310.73 L207.05 312.04 L207.4 313.19 L207.75 314.22 L208.1 315.19 L208.45 316.14 L208.8 317.11 L209.15 318.16 L209.5 319.29 L209.85 320.47 L210.2 322.3 L210.55 322.92 L210.9 324.4 L211.25 326.11 L211.6 325.72 L211.95 325.74 L212.3 326.22 L212.65 327.92 L213 327.99 L213.35 330.89 L213.7 327.93 L214.05 328.87 L214.4 330.68 L214.75 332.19 L215.1 331.23 L215.45 330.94 L215.8 331.73 L216.15 333.09 L216.5 335.07 L216.85 332.44 L217.2 334.62 L217.55 334.45 L217.9 336.28 L218.25 337.1 L218.6 333.87 L218.95 341.65 L219.3 337.56 L219.65 336.06 L220 335.16 L220.35 336.87 L220.7 337.97 L221.05 339.91 L221.4 339.56 L221.75 341.68 L222.1 336.82 L222.45 338.92 L222.8 338.43 L223.15 341.46 L223.5 342.41 L223.85 336.74 L224.2 340.75 L224.55 344.56 L224.9 345.07 L225.25 340.35 L225.6 345.39 L225.95 344.7 L226.3 342.33 L226.65 346.68 L227 339.64 L227.35 341.94 L227.7 344.02 L228.05 344.08 L228.4 343.81 L228.75 350.55 L229.1 353.14" fill="none" stroke="#1e1e1e" stroke-width="1.2" stroke-linejoin="round"/>
<rect x="195.4" y="256.8" width="34.2" height="101.5" fill="none" stroke="#6e6e6e" stroke-width="1.5"/>
<line x1="195.4" y1="324.47" x2="197" y2="324.47" stroke="#333" stroke-width="0.8"/>
<line x1="195.4" y1="290.63" x2="197" y2="290.63" stroke="#333" stroke-width="0.8"/>
<line x1="195.4" y1="256.8" x2="197" y2="256.8" stroke="#333" stroke-width="0.8"/>
<text x="195.4" y="363.3" font-size="4.5" font-family="'Liberation Serif', 'Times New Roman', serif" font-weight="normal" fill="#3a3a3a" text-anchor="middle" stroke="#3a3a3a" stroke-width="0.15">0</text>
<text x="206.8" y="363.3" font-size="4.5" font-family="'Liberation Serif', 'Times New Roman', serif" font-weight="normal" fill="#3a3a3a" text-anchor="middle" stroke="#3a3a3a" stroke-width="0.15">10</text>
<text x="218.2" y="363.3" font-size="4.5" font-family="'Liberation Serif', 'Times New Roman', serif" font-weight="normal" fill="#3a3a3a" text-anchor="middle" stroke="#3a3a3a" stroke-width="0.15">20</text>
<text x="229.6" y="363.3" font-size="4.5" font-family="'Liberation Serif', 'Times New Roman', serif" font-weight="normal" fill="#3a3a3a" text-anchor="middle" stroke="#3a3a3a" stroke-width="0.15">30</text>
<text transform="translate(7.3 304.8) rotate(-90)" font-size="4.7" font-family="'Liberation Serif', 'Times New Roman', serif" fill="#333" stroke="#333" stroke-width="0.1" text-anchor="middle" textLength="31" lengthAdjust="spacingAndGlyphs">Thrombin [nM]</text>
<rect x="116.6" y="34.3" width="113" height="11" fill="#ffffff" stroke="#505050" stroke-width="1.3"/>
<text x="166" y="40.8" font-size="5.2" font-family="'Liberation Sans', Arial, sans-serif" font-weight="normal" fill="#111" text-anchor="start" textLength="15" lengthAdjust="spacingAndGlyphs" stroke="#111" stroke-width="0.2">Control</text>
<rect x="116.6" y="142.5" width="113" height="9.8" fill="#d2d2d2" stroke="#505050" stroke-width="1.3"/>
<text x="166" y="149.2" font-size="5.2" font-family="'Liberation Sans', Arial, sans-serif" font-weight="normal" fill="#111" text-anchor="start" textLength="15.6" lengthAdjust="spacingAndGlyphs" stroke="#111" stroke-width="0.2">PCC25</text>
<rect x="116.6" y="255.8" width="113" height="10.5" fill="#858585" stroke="#505050" stroke-width="1.3"/>
<text x="162.6" y="262.3" font-size="5.2" font-family="'Liberation Sans', Arial, sans-serif" font-weight="normal" fill="#111" text-anchor="start" textLength="15.2" lengthAdjust="spacingAndGlyphs" stroke="#111" stroke-width="0.2">PCC50</text>
<text x="178" y="263.3" font-size="3.4" font-family="'Liberation Sans', Arial, sans-serif" font-weight="normal" fill="#111" text-anchor="start" textLength="6" lengthAdjust="spacingAndGlyphs" stroke="#111" stroke-width="0.15">OKC</text>
<text x="251.4" y="10.8" font-size="11.6" font-family="'Liberation Sans', Arial, sans-serif" font-weight="bold" fill="#000" text-anchor="start" stroke="#000" stroke-width="0.12">B</text>
<line x1="270" y1="40.8" x2="352.5" y2="40.8" stroke="#777" stroke-width="1.2"/>
<path d="M352.2 38.8 L352.2 42.8 L356 40.8 Z" fill="#111"/>
<line x1="357.3" y1="38.2" x2="357.3" y2="43.4" stroke="#888" stroke-width="0.6"/>
<line x1="357.3" y1="40.8" x2="368" y2="40.8" stroke="#888" stroke-width="0.9"/>
<line x1="365.7" y1="38.3" x2="365.7" y2="43.3" stroke="#888" stroke-width="0.6"/>
<line x1="368.2" y1="38.3" x2="368.2" y2="43.3" stroke="#888" stroke-width="0.6"/>
<line x1="368" y1="40.8" x2="511" y2="40.8" stroke="#777" stroke-width="1.2"/>
<line x1="383.3" y1="38.0" x2="383.3" y2="43.6" stroke="#666" stroke-width="0.7"/>
<path d="M511.2 38.8 L511.2 42.8 L515 40.8 Z" fill="#111"/>
<line x1="360.9" y1="20" x2="360.9" y2="35.3" stroke="#333" stroke-width="0.9"/>
<path d="M358.5 35 L363.3 35 L360.9 38.6 Z" fill="#111"/>
<line x1="375.1" y1="20" x2="375.1" y2="35.3" stroke="#333" stroke-width="0.9"/>
<path d="M372.7 35 L377.5 35 L375.1 38.6 Z" fill="#111"/>
<text x="344" y="18.2" font-size="5.6" font-family="'Liberation Sans', Arial, sans-serif" font-weight="normal" fill="#111" text-anchor="start" textLength="18" lengthAdjust="spacingAndGlyphs" stroke="#111" stroke-width="0.12">Trauma</text>
<text x="372.6" y="18.3" font-size="5.6" font-family="'Liberation Sans', Arial, sans-serif" font-weight="normal" fill="#111" text-anchor="start" textLength="103.6" lengthAdjust="spacingAndGlyphs" stroke="#111" stroke-width="0.12">10 min after trauma: Placebo / PCC Infusion</text>
<text x="281.2" y="38.7" font-size="5.6" font-family="'Liberation Sans', Arial, sans-serif" font-weight="normal" fill="#111" text-anchor="start" textLength="20.1" lengthAdjust="spacingAndGlyphs" stroke="#111" stroke-width="0.12">Baseline</text>
<text x="319.8" y="38.5" font-size="5.6" font-family="'Liberation Sans', Arial, sans-serif" font-weight="normal" fill="#111" text-anchor="start" textLength="29.8" lengthAdjust="spacingAndGlyphs" stroke="#111" stroke-width="0.12">Hemodilution</text>
<text x="397" y="38.7" font-size="5.6" font-family="'Liberation Sans', Arial, sans-serif" font-weight="normal" fill="#111" text-anchor="start" textLength="15.5" lengthAdjust="spacingAndGlyphs" stroke="#111" stroke-width="0.12">30 min</text>
<text x="439.2" y="38.7" font-size="5.6" font-family="'Liberation Sans', Arial, sans-serif" font-weight="normal" fill="#111" text-anchor="start" textLength="16.7" lengthAdjust="spacingAndGlyphs" stroke="#111" stroke-width="0.12">60 min</text>
<text x="482" y="38.7" font-size="5.6" font-family="'Liberation Sans', Arial, sans-serif" font-weight="normal" fill="#111" text-anchor="start" textLength="19.6" lengthAdjust="spacingAndGlyphs" stroke="#111" stroke-width="0.12">120 min</text>
<line x1="270" y1="133.03" x2="307.2" y2="133.03" stroke="#bcbcbc" stroke-width="0.8"/>
<line x1="270" y1="96.07" x2="307.2" y2="96.07" stroke="#bcbcbc" stroke-width="0.8"/>
<line x1="282.4" y1="170" x2="282.4" y2="168.7" stroke="#555" stroke-width="0.6"/>
<line x1="294.8" y1="170" x2="294.8" y2="168.7" stroke="#555" stroke-width="0.6"/>
<path d="M270.5 169.8 L270.85 169.8 L271.2 169.8 L271.55 169.79 L271.9 169.79 L272.25 169.78 L272.6 169.77 L272.95 169.76 L273.3 169.75 L273.65 169.73 L274 169.71 L274.35 169.01 L274.7 163.4 L275.05 155.26 L275.4 148.05 L275.75 139.95 L276.1 133.39 L276.45 132.18 L276.8 132.89 L277.15 134 L277.5 135.31 L277.85 137.27 L278.2 139.63 L278.55 141.98 L278.9 143.96 L279.25 145.39 L279.6 146.7 L279.95 147.91 L280.3 149.04 L280.65 150.09 L281 151.07 L281.35 151.98 L281.7 152.84 L282.05 153.65 L282.4 154.42 L282.75 155.15 L283.1 155.86 L283.45 156.54 L283.8 157.19 L284.15 157.82 L284.5 158.43 L284.85 159 L285.2 159.56 L285.55 160.09 L285.9 160.6 L286.25 161.09 L286.6 161.55 L286.95 162 L287.3 162.42 L287.65 162.84 L288 163.25 L288.35 163.66 L288.7 164.07 L289.05 164.46 L289.4 164.83 L289.75 165.19 L290.1 165.52 L290.45 165.84 L290.8 166.12 L291.15 166.38 L291.5 166.6 L291.85 166.79 L292.2 166.94 L292.55 167.07 L292.9 167.2 L293.25 167.32 L293.6 167.44 L293.95 167.55 L294.3 167.65 L294.65 167.74 L295 167.83 L295.35 167.92 L295.7 168 L296.05 168.08 L296.4 168.15 L296.75 168.21 L297.1 168.27 L297.45 168.33 L297.8 168.39 L298.15 168.44 L298.5 168.49 L298.85 168.53 L299.2 168.58 L299.55 168.62 L299.9 168.67 L300.25 168.71 L300.6 168.75 L300.95 168.8 L301.3 168.84 L301.65 168.88 L302 168.92 L302.35 168.95 L302.7 168.99 L303.05 169.02 L303.4 169.05 L303.75 169.08 L304.1 169.1 L304.45 169.13 L304.8 169.15 L305.15 169.16 L305.5 169.18 L305.85 169.19 L306.2 169.2 L306.55 169.2 L306.7 169.2" fill="none" stroke="#1e1e1e" stroke-width="1.2" stroke-linejoin="round"/>
<rect x="270" y="59.1" width="37.2" height="110.9" fill="none" stroke="#6e6e6e" stroke-width="1.5"/>
<line x1="270" y1="133.03" x2="271.6" y2="133.03" stroke="#333" stroke-width="0.8"/>
<line x1="270" y1="96.07" x2="271.6" y2="96.07" stroke="#333" stroke-width="0.8"/>
<line x1="270" y1="59.1" x2="271.6" y2="59.1" stroke="#333" stroke-width="0.8"/>
<text x="270" y="175.6" font-size="5.2" font-family="'Liberation Serif', 'Times New Roman', serif" font-weight="normal" fill="#222" text-anchor="middle" stroke="#222" stroke-width="0.15">0</text>
<text x="282.4" y="175.6" font-size="5.2" font-family="'Liberation Serif', 'Times New Roman', serif" font-weight="normal" fill="#222" text-anchor="middle" stroke="#222" stroke-width="0.15">10</text>
<text x="294.8" y="175.6" font-size="5.2" font-family="'Liberation Serif', 'Times New Roman', serif" font-weight="normal" fill="#222" text-anchor="middle" stroke="#222" stroke-width="0.15">20</text>
<text x="307.2" y="175.6" font-size="5.2" font-family="'Liberation Serif', 'Times New Roman', serif" font-weight="normal" fill="#222" text-anchor="middle" stroke="#222" stroke-width="0.15">30</text>
<text x="269" y="171.3" font-size="4.9" font-family="'Liberation Serif', 'Times New Roman', serif" font-weight="normal" fill="#222" text-anchor="end" stroke="#222" stroke-width="0.18">0</text>
<text x="269" y="134.33" font-size="4.9" font-family="'Liberation Serif', 'Times New Roman', serif" font-weight="normal" fill="#222" text-anchor="end" stroke="#222" stroke-width="0.18">100</text>
<text x="269" y="97.37" font-size="4.9" font-family="'Liberation Serif', 'Times New Roman', serif" font-weight="normal" fill="#222" text-anchor="end" stroke="#222" stroke-width="0.18">200</text>
<text x="269" y="60.4" font-size="4.9" font-family="'Liberation Serif', 'Times New Roman', serif" font-weight="normal" fill="#222" text-anchor="end" stroke="#222" stroke-width="0.18">300</text>
<line x1="319.3" y1="133.03" x2="356.3" y2="133.03" stroke="#bcbcbc" stroke-width="0.8"/>
<line x1="319.3" y1="96.07" x2="356.3" y2="96.07" stroke="#bcbcbc" stroke-width="0.8"/>
<line x1="331.63" y1="170" x2="331.63" y2="168.7" stroke="#555" stroke-width="0.6"/>
<line x1="343.97" y1="170" x2="343.97" y2="168.7" stroke="#555" stroke-width="0.6"/>
<path d="M319.8 169.8 L320.15 169.8 L320.5 169.8 L320.85 169.79 L321.2 169.79 L321.55 169.78 L321.9 169.77 L322.25 169.75 L322.6 169.74 L322.95 169.72 L323.3 169.46 L323.65 165.83 L324 160.5 L324.35 156.37 L324.7 152.41 L325.05 150.14 L325.4 150.16 L325.75 150.36 L326.1 150.6 L326.45 150.92 L326.8 151.37 L327.15 151.92 L327.5 152.56 L327.85 153.24 L328.2 153.94 L328.55 154.65 L328.9 155.32 L329.25 155.94 L329.6 156.47 L329.95 156.92 L330.3 157.36 L330.65 157.78 L331 158.2 L331.35 158.61 L331.7 159.01 L332.05 159.4 L332.4 159.77 L332.75 160.14 L333.1 160.49 L333.45 160.84 L333.8 161.17 L334.15 161.49 L334.5 161.79 L334.85 162.09 L335.2 162.37 L335.55 162.64 L335.9 162.89 L336.25 163.13 L336.6 163.37 L336.95 163.59 L337.3 163.82 L337.65 164.04 L338 164.25 L338.35 164.46 L338.7 164.66 L339.05 164.85 L339.4 165.04 L339.75 165.22 L340.1 165.32 L340.45 165.37 L340.8 165.36 L341.15 165.71 L341.5 166.15 L341.85 165.86 L342.2 166.07 L342.55 165.98 L342.9 166.34 L343.25 166.4 L343.6 166.59 L343.95 166.64 L344.3 167 L344.65 167.32 L345 166.75 L345.35 167.27 L345.7 166.94 L346.05 166.95 L346.4 166.38 L346.75 166.47 L347.1 167.61 L347.45 167.16 L347.8 167.94 L348.15 167.73 L348.5 167.79 L348.85 168.09 L349.2 167.71 L349.55 166.45 L349.9 167.01 L350.25 168.07 L350.6 168.39 L350.95 167.73 L351.3 167.75 L351.65 167.31 L352 168.41 L352.35 167.55 L352.7 167.85 L353.05 168.54 L353.4 168.75 L353.75 168.5 L354.1 169.15 L354.45 168.2 L354.8 168.17 L355.15 168.64 L355.5 168.95 L355.8 168.77" fill="none" stroke="#1e1e1e" stroke-width="1.2" stroke-linejoin="round"/>
<rect x="319.3" y="59.1" width="37" height="110.9" fill="none" stroke="#6e6e6e" stroke-width="1.5"/>
<line x1="319.3" y1="133.03" x2="320.9" y2="133.03" stroke="#333" stroke-width="0.8"/>
<line x1="319.3" y1="96.07" x2="320.9" y2="96.07" stroke="#333" stroke-width="0.8"/>
<line x1="319.3" y1="59.1" x2="320.9" y2="59.1" stroke="#333" stroke-width="0.8"/>
<text x="319.3" y="175.6" font-size="5.2" font-family="'Liberation Serif', 'Times New Roman', serif" font-weight="normal" fill="#222" text-anchor="middle" stroke="#222" stroke-width="0.15">0</text>
<text x="331.63" y="175.6" font-size="5.2" font-family="'Liberation Serif', 'Times New Roman', serif" font-weight="normal" fill="#222" text-anchor="middle" stroke="#222" stroke-width="0.15">10</text>
<text x="343.97" y="175.6" font-size="5.2" font-family="'Liberation Serif', 'Times New Roman', serif" font-weight="normal" fill="#222" text-anchor="middle" stroke="#222" stroke-width="0.15">20</text>
<text x="356.3" y="175.6" font-size="5.2" font-family="'Liberation Serif', 'Times New Roman', serif" font-weight="normal" fill="#222" text-anchor="middle" stroke="#222" stroke-width="0.15">30</text>
<line x1="383.5" y1="133.03" x2="420.7" y2="133.03" stroke="#bcbcbc" stroke-width="0.8"/>
<line x1="383.5" y1="96.07" x2="420.7" y2="96.07" stroke="#bcbcbc" stroke-width="0.8"/>
<path d="M384 169.8 L384.35 169.8 L384.7 169.8 L385.05 169.8 L385.4 169.79 L385.75 169.79 L386.1 169.78 L386.45 169.77 L386.8 169.76 L387.15 169.74 L387.5 169.73 L387.85 169.71 L388.2 164.4 L388.55 139.26 L388.9 113.98 L389.25 103.06 L389.6 94.16 L389.95 86.58 L390.3 80.68 L390.65 76.86 L391 75.5 L391.35 76.2 L391.7 78.07 L392.05 80.77 L392.4 83.97 L392.75 87.33 L393.1 90.51 L393.45 93.18 L393.8 95.35 L394.15 97.44 L394.5 99.44 L394.85 101.32 L395.2 103.07 L395.55 104.67 L395.9 106.17 L396.25 107.6 L396.6 108.95 L396.95 110.24 L397.3 111.48 L397.65 112.65 L398 113.78 L398.35 114.86 L398.7 115.89 L399.05 116.88 L399.4 117.83 L399.75 118.74 L400.1 119.62 L400.45 120.48 L400.8 121.31 L401.15 122.11 L401.5 122.9 L401.85 123.66 L402.2 124.4 L402.55 125.11 L402.9 125.81 L403.25 126.49 L403.6 127.15 L403.95 127.79 L404.3 128.43 L404.65 127.24 L405 128.5 L405.35 130.38 L405.7 129.97 L406.05 130.02 L406.4 132.81 L406.75 134.35 L407.1 132.93 L407.45 134.18 L407.8 134.41 L408.15 133 L408.5 133.2 L408.85 132.06 L409.2 136.42 L409.55 134.99 L409.9 135.06 L410.25 136.63 L410.6 139.21 L410.95 142.46 L411.3 138.24 L411.65 138.25 L412 139.74 L412.35 134.75 L412.7 143.4 L413.05 144.31 L413.4 145.83 L413.75 140.19 L414.1 144.93 L414.45 148.67 L414.8 148.76 L415.15 146.44 L415.5 136.88 L415.85 151.52 L416.2 146.39 L416.55 141.25 L416.9 151.1 L417.25 146.47 L417.6 136.43 L417.95 148.38 L418.3 145.52 L418.65 156.44 L419 139.75 L419.35 150.46 L419.7 154.35 L420.05 166.04 L420.2 143.88 L420.2 170 L384 170 Z" fill="#858585" stroke="none"/>
<line x1="395.9" y1="170" x2="395.9" y2="168.7" stroke="#555" stroke-width="0.6"/>
<line x1="408.3" y1="170" x2="408.3" y2="168.7" stroke="#555" stroke-width="0.6"/>
<path d="M384 169.8 L384.35 169.8 L384.7 169.8 L385.05 169.8 L385.4 169.79 L385.75 169.79 L386.1 169.78 L386.45 169.77 L386.8 169.76 L387.15 169.74 L387.5 169.73 L387.85 169.71 L388.2 164.4 L388.55 139.26 L388.9 113.98 L389.25 103.06 L389.6 94.16 L389.95 86.58 L390.3 80.68 L390.65 76.86 L391 75.5 L391.35 76.2 L391.7 78.07 L392.05 80.77 L392.4 83.97 L392.75 87.33 L393.1 90.51 L393.45 93.18 L393.8 95.35 L394.15 97.44 L394.5 99.44 L394.85 101.32 L395.2 103.07 L395.55 104.67 L395.9 106.17 L396.25 107.6 L396.6 108.95 L396.95 110.24 L397.3 111.48 L397.65 112.65 L398 113.78 L398.35 114.86 L398.7 115.89 L399.05 116.88 L399.4 117.83 L399.75 118.74 L400.1 119.62 L400.45 120.48 L400.8 121.31 L401.15 122.11 L401.5 122.9 L401.85 123.66 L402.2 124.4 L402.55 125.11 L402.9 125.81 L403.25 126.49 L403.6 127.15 L403.95 127.79 L404.3 128.43 L404.65 127.24 L405 128.5 L405.35 130.38 L405.7 129.97 L406.05 130.02 L406.4 132.81 L406.75 134.35 L407.1 132.93 L407.45 134.18 L407.8 134.41 L408.15 133 L408.5 133.2 L408.85 132.06 L409.2 136.42 L409.55 134.99 L409.9 135.06 L410.25 136.63 L410.6 139.21 L410.95 142.46 L411.3 138.24 L411.65 138.25 L412 139.74 L412.35 134.75 L412.7 143.4 L413.05 144.31 L413.4 145.83 L413.75 140.19 L414.1 144.93 L414.45 148.67 L414.8 148.76 L415.15 146.44 L415.5 136.88 L415.85 151.52 L416.2 146.39 L416.55 141.25 L416.9 151.1 L417.25 146.47 L417.6 136.43 L417.95 148.38 L418.3 145.52 L418.65 156.44 L419 139.75 L419.35 150.46 L419.7 154.35 L420.05 166.04 L420.2 143.88" fill="none" stroke="#1e1e1e" stroke-width="1.2" stroke-linejoin="round"/>
<rect x="383.5" y="59.1" width="37.2" height="110.9" fill="none" stroke="#6e6e6e" stroke-width="1.5"/>
<line x1="383.5" y1="133.03" x2="385.1" y2="133.03" stroke="#333" stroke-width="0.8"/>
<line x1="383.5" y1="96.07" x2="385.1" y2="96.07" stroke="#333" stroke-width="0.8"/>
<line x1="383.5" y1="59.1" x2="385.1" y2="59.1" stroke="#333" stroke-width="0.8"/>
<text x="383.5" y="175.6" font-size="5.2" font-family="'Liberation Serif', 'Times New Roman', serif" font-weight="normal" fill="#222" text-anchor="middle" stroke="#222" stroke-width="0.15">0</text>
<text x="395.9" y="175.6" font-size="5.2" font-family="'Liberation Serif', 'Times New Roman', serif" font-weight="normal" fill="#222" text-anchor="middle" stroke="#222" stroke-width="0.15">10</text>
<text x="408.3" y="175.6" font-size="5.2" font-family="'Liberation Serif', 'Times New Roman', serif" font-weight="normal" fill="#222" text-anchor="middle" stroke="#222" stroke-width="0.15">20</text>
<text x="420.7" y="175.6" font-size="5.2" font-family="'Liberation Serif', 'Times New Roman', serif" font-weight="normal" fill="#222" text-anchor="middle" stroke="#222" stroke-width="0.15">30</text>
<line x1="430.3" y1="133.03" x2="467.4" y2="133.03" stroke="#bcbcbc" stroke-width="0.8"/>
<line x1="430.3" y1="96.07" x2="467.4" y2="96.07" stroke="#bcbcbc" stroke-width="0.8"/>
<path d="M431 169.8 L431.35 169.8 L431.7 169.8 L432.05 169.79 L432.4 169.79 L432.75 169.78 L433.1 169.76 L433.45 169.75 L433.8 169.73 L434.15 169.7 L434.5 162.24 L434.85 142.43 L435.2 123.41 L435.55 113.16 L435.9 104.04 L436.25 96.42 L436.6 91.34 L436.95 89.84 L437.3 91.89 L437.65 95.78 L438 99.67 L438.35 102.01 L438.7 103.66 L439.05 105.06 L439.4 106.31 L439.75 107.52 L440.1 108.74 L440.45 109.92 L440.8 111.05 L441.15 112.13 L441.5 113.17 L441.85 114.16 L442.2 115.1 L442.55 115.99 L442.9 116.84 L443.25 117.65 L443.6 118.43 L443.95 119.19 L444.3 119.94 L444.65 120.69 L445 121.45 L445.35 122.19 L445.7 122.93 L446.05 123.66 L446.4 124.36 L446.75 125.05 L447.1 125.7 L447.45 126.33 L447.8 126.96 L448.15 127.56 L448.5 128.15 L448.85 128.71 L449.2 129.24 L449.55 129.73 L449.9 130.18 L450.25 130.13 L450.6 131.02 L450.95 126.4 L451.3 127.89 L451.65 133.8 L452 129.2 L452.35 132.01 L452.7 134.98 L453.05 134.66 L453.4 135.01 L453.75 136.39 L454.1 136.56 L454.45 136.75 L454.8 138.86 L455.15 142.48 L455.5 139.23 L455.85 143.04 L456.2 140.42 L456.55 140.92 L456.9 140.47 L457.25 136.37 L457.6 139.18 L457.95 139.23 L458.3 134.85 L458.65 143.97 L459 143.95 L459.35 144.94 L459.7 141.75 L460.05 131.93 L460.4 150.7 L460.75 144.14 L461.1 131.58 L461.45 143.78 L461.8 137.43 L462.15 145 L462.5 142.95 L462.85 149.27 L463.2 144.94 L463.55 147.33 L463.9 150.01 L464.25 156.38 L464.6 142.23 L464.95 156.99 L465.3 153.84 L465.65 146.79 L466 151.75 L466.35 148.32 L466.7 152.2 L466.8 159.78 L466.8 170 L431 170 Z" fill="#858585" stroke="none"/>
<line x1="442.67" y1="170" x2="442.67" y2="168.7" stroke="#555" stroke-width="0.6"/>
<line x1="455.03" y1="170" x2="455.03" y2="168.7" stroke="#555" stroke-width="0.6"/>
<path d="M431 169.8 L431.35 169.8 L431.7 169.8 L432.05 169.79 L432.4 169.79 L432.75 169.78 L433.1 169.76 L433.45 169.75 L433.8 169.73 L434.15 169.7 L434.5 162.24 L434.85 142.43 L435.2 123.41 L435.55 113.16 L435.9 104.04 L436.25 96.42 L436.6 91.34 L436.95 89.84 L437.3 91.89 L437.65 95.78 L438 99.67 L438.35 102.01 L438.7 103.66 L439.05 105.06 L439.4 106.31 L439.75 107.52 L440.1 108.74 L440.45 109.92 L440.8 111.05 L441.15 112.13 L441.5 113.17 L441.85 114.16 L442.2 115.1 L442.55 115.99 L442.9 116.84 L443.25 117.65 L443.6 118.43 L443.95 119.19 L444.3 119.94 L444.65 120.69 L445 121.45 L445.35 122.19 L445.7 122.93 L446.05 123.66 L446.4 124.36 L446.75 125.05 L447.1 125.7 L447.45 126.33 L447.8 126.96 L448.15 127.56 L448.5 128.15 L448.85 128.71 L449.2 129.24 L449.55 129.73 L449.9 130.18 L450.25 130.13 L450.6 131.02 L450.95 126.4 L451.3 127.89 L451.65 133.8 L452 129.2 L452.35 132.01 L452.7 134.98 L453.05 134.66 L453.4 135.01 L453.75 136.39 L454.1 136.56 L454.45 136.75 L454.8 138.86 L455.15 142.48 L455.5 139.23 L455.85 143.04 L456.2 140.42 L456.55 140.92 L456.9 140.47 L457.25 136.37 L457.6 139.18 L457.95 139.23 L458.3 134.85 L458.65 143.97 L459 143.95 L459.35 144.94 L459.7 141.75 L460.05 131.93 L460.4 150.7 L460.75 144.14 L461.1 131.58 L461.45 143.78 L461.8 137.43 L462.15 145 L462.5 142.95 L462.85 149.27 L463.2 144.94 L463.55 147.33 L463.9 150.01 L464.25 156.38 L464.6 142.23 L464.95 156.99 L465.3 153.84 L465.65 146.79 L466 151.75 L466.35 148.32 L466.7 152.2 L466.8 159.78" fill="none" stroke="#1e1e1e" stroke-width="1.2" stroke-linejoin="round"/>
<rect x="430.3" y="59.1" width="37.1" height="110.9" fill="none" stroke="#6e6e6e" stroke-width="1.5"/>
<line x1="430.3" y1="133.03" x2="431.9" y2="133.03" stroke="#333" stroke-width="0.8"/>
<line x1="430.3" y1="96.07" x2="431.9" y2="96.07" stroke="#333" stroke-width="0.8"/>
<line x1="430.3" y1="59.1" x2="431.9" y2="59.1" stroke="#333" stroke-width="0.8"/>
<text x="430.3" y="175.6" font-size="5.2" font-family="'Liberation Serif', 'Times New Roman', serif" font-weight="normal" fill="#222" text-anchor="middle" stroke="#222" stroke-width="0.15">0</text>
<text x="442.67" y="175.6" font-size="5.2" font-family="'Liberation Serif', 'Times New Roman', serif" font-weight="normal" fill="#222" text-anchor="middle" stroke="#222" stroke-width="0.15">10</text>
<text x="455.03" y="175.6" font-size="5.2" font-family="'Liberation Serif', 'Times New Roman', serif" font-weight="normal" fill="#222" text-anchor="middle" stroke="#222" stroke-width="0.15">20</text>
<text x="467.4" y="175.6" font-size="5.2" font-family="'Liberation Serif', 'Times New Roman', serif" font-weight="normal" fill="#222" text-anchor="middle" stroke="#222" stroke-width="0.15">30</text>
<line x1="478" y1="133.03" x2="515.1" y2="133.03" stroke="#bcbcbc" stroke-width="0.8"/>
<line x1="478" y1="96.07" x2="515.1" y2="96.07" stroke="#bcbcbc" stroke-width="0.8"/>
<path d="M478.5 169.8 L478.85 169.8 L479.2 169.8 L479.55 169.79 L479.9 169.79 L480.25 169.78 L480.6 169.77 L480.95 169.76 L481.3 169.75 L481.65 169.73 L482 169.71 L482.35 167.18 L482.7 148.18 L483.05 125.91 L483.4 114.73 L483.75 106.11 L484.1 98.97 L484.45 94.1 L484.8 92.3 L485.15 93.3 L485.5 95.85 L485.85 99.29 L486.2 102.95 L486.55 106.16 L486.9 108.3 L487.25 109.91 L487.6 111.33 L487.95 112.61 L488.3 113.8 L488.65 114.95 L489 116.11 L489.35 117.32 L489.7 118.54 L490.05 119.73 L490.4 120.9 L490.75 122.05 L491.1 123.17 L491.45 124.25 L491.8 125.3 L492.15 126.31 L492.5 127.3 L492.85 128.26 L493.2 129.2 L493.55 130.11 L493.9 131 L494.25 133.16 L494.6 131.53 L494.95 133.3 L495.3 135.44 L495.65 134.02 L496 135.61 L496.35 137.04 L496.7 135.87 L497.05 137.22 L497.4 137.1 L497.75 139.49 L498.1 138.79 L498.45 140.96 L498.8 139.98 L499.15 140.38 L499.5 139.63 L499.85 140.98 L500.2 140.57 L500.55 140.24 L500.9 143.14 L501.25 143.58 L501.6 146.49 L501.95 143.91 L502.3 144.15 L502.65 142.33 L503 137.78 L503.35 143.44 L503.7 147.43 L504.05 145.02 L504.4 141.67 L504.75 147.63 L505.1 146.01 L505.45 147.2 L505.8 147.62 L506.15 148.08 L506.5 150.24 L506.85 144.42 L507.2 147.78 L507.55 148.78 L507.9 153.24 L508.25 148.98 L508.6 155.84 L508.95 152.53 L509.3 156.65 L509.65 152.38 L510 154.48 L510.35 152.68 L510.7 146.38 L511.05 149.46 L511.4 149.71 L511.75 149.31 L512.1 148.69 L512.45 149.36 L512.8 153.41 L513.15 156.84 L513.5 153.73 L513.85 151.07 L514.2 158.7 L514.55 155.43 L514.6 155.5 L514.6 170 L478.5 170 Z" fill="#858585" stroke="none"/>
<line x1="490.37" y1="170" x2="490.37" y2="168.7" stroke="#555" stroke-width="0.6"/>
<line x1="502.73" y1="170" x2="502.73" y2="168.7" stroke="#555" stroke-width="0.6"/>
<path d="M478.5 169.8 L478.85 169.8 L479.2 169.8 L479.55 169.79 L479.9 169.79 L480.25 169.78 L480.6 169.77 L480.95 169.76 L481.3 169.75 L481.65 169.73 L482 169.71 L482.35 167.18 L482.7 148.18 L483.05 125.91 L483.4 114.73 L483.75 106.11 L484.1 98.97 L484.45 94.1 L484.8 92.3 L485.15 93.3 L485.5 95.85 L485.85 99.29 L486.2 102.95 L486.55 106.16 L486.9 108.3 L487.25 109.91 L487.6 111.33 L487.95 112.61 L488.3 113.8 L488.65 114.95 L489 116.11 L489.35 117.32 L489.7 118.54 L490.05 119.73 L490.4 120.9 L490.75 122.05 L491.1 123.17 L491.45 124.25 L491.8 125.3 L492.15 126.31 L492.5 127.3 L492.85 128.26 L493.2 129.2 L493.55 130.11 L493.9 131 L494.25 133.16 L494.6 131.53 L494.95 133.3 L495.3 135.44 L495.65 134.02 L496 135.61 L496.35 137.04 L496.7 135.87 L497.05 137.22 L497.4 137.1 L497.75 139.49 L498.1 138.79 L498.45 140.96 L498.8 139.98 L499.15 140.38 L499.5 139.63 L499.85 140.98 L500.2 140.57 L500.55 140.24 L500.9 143.14 L501.25 143.58 L501.6 146.49 L501.95 143.91 L502.3 144.15 L502.65 142.33 L503 137.78 L503.35 143.44 L503.7 147.43 L504.05 145.02 L504.4 141.67 L504.75 147.63 L505.1 146.01 L505.45 147.2 L505.8 147.62 L506.15 148.08 L506.5 150.24 L506.85 144.42 L507.2 147.78 L507.55 148.78 L507.9 153.24 L508.25 148.98 L508.6 155.84 L508.95 152.53 L509.3 156.65 L509.65 152.38 L510 154.48 L510.35 152.68 L510.7 146.38 L511.05 149.46 L511.4 149.71 L511.75 149.31 L512.1 148.69 L512.45 149.36 L512.8 153.41 L513.15 156.84 L513.5 153.73 L513.85 151.07 L514.2 158.7 L514.55 155.43 L514.6 155.5" fill="none" stroke="#1e1e1e" stroke-width="1.2" stroke-linejoin="round"/>
<rect x="478" y="59.1" width="37.1" height="110.9" fill="none" stroke="#6e6e6e" stroke-width="1.5"/>
<line x1="478" y1="133.03" x2="479.6" y2="133.03" stroke="#333" stroke-width="0.8"/>
<line x1="478" y1="96.07" x2="479.6" y2="96.07" stroke="#333" stroke-width="0.8"/>
<line x1="478" y1="59.1" x2="479.6" y2="59.1" stroke="#333" stroke-width="0.8"/>
<text x="478" y="175.6" font-size="5.2" font-family="'Liberation Serif', 'Times New Roman', serif" font-weight="normal" fill="#222" text-anchor="middle" stroke="#222" stroke-width="0.15">0</text>
<text x="490.37" y="175.6" font-size="5.2" font-family="'Liberation Serif', 'Times New Roman', serif" font-weight="normal" fill="#222" text-anchor="middle" stroke="#222" stroke-width="0.15">10</text>
<text x="502.73" y="175.6" font-size="5.2" font-family="'Liberation Serif', 'Times New Roman', serif" font-weight="normal" fill="#222" text-anchor="middle" stroke="#222" stroke-width="0.15">20</text>
<text x="515.1" y="175.6" font-size="5.2" font-family="'Liberation Serif', 'Times New Roman', serif" font-weight="normal" fill="#222" text-anchor="middle" stroke="#222" stroke-width="0.15">30</text>
<text transform="translate(257.0 113.3) rotate(-90)" font-size="5.0" font-family="'Liberation Serif', 'Times New Roman', serif" fill="#333" stroke="#333" stroke-width="0.1" text-anchor="middle" textLength="31.2" lengthAdjust="spacingAndGlyphs">Thrombin [nM]</text>
<line x1="270" y1="268.03" x2="307.2" y2="268.03" stroke="#bcbcbc" stroke-width="0.8"/>
<line x1="270" y1="231.27" x2="307.2" y2="231.27" stroke="#bcbcbc" stroke-width="0.8"/>
<line x1="282.4" y1="304.8" x2="282.4" y2="303.5" stroke="#555" stroke-width="0.6"/>
<line x1="294.8" y1="304.8" x2="294.8" y2="303.5" stroke="#555" stroke-width="0.6"/>
<path d="M270.5 304.6 L270.85 304.6 L271.2 304.6 L271.55 304.59 L271.9 304.59 L272.25 304.58 L272.6 304.57 L272.95 304.56 L273.3 304.54 L273.65 304.52 L274 304.5 L274.35 303.62 L274.7 301.7 L275.05 297.64 L275.4 292.3 L275.75 289.14 L276.1 286.85 L276.45 285.16 L276.8 284.5 L277.15 285.27 L277.5 287.11 L277.85 289.31 L278.2 291.49 L278.55 294.13 L278.9 296.44 L279.25 297.82 L279.6 298.91 L279.95 299.8 L280.3 300.52 L280.65 301.13 L281 301.7 L281.35 302.21 L281.7 302.64 L282.05 302.96 L282.4 303.14 L282.75 303.28 L283.1 303.41 L283.45 303.53 L283.8 303.63 L284.15 303.72 L284.5 303.8 L284.85 303.87 L285.2 303.92 L285.55 303.96 L285.9 303.99 L286.25 304.01 L286.6 304.02 L286.95 304.04 L287.3 304.05 L287.65 304.07 L288 304.16 L288.35 304.04 L288.7 304.15 L289.05 304.03 L289.4 304.41 L289.75 304.11 L290.1 304.54 L290.45 304.21 L290.8 304.04 L291.15 304.43 L291.5 304.18 L291.85 304.15 L292.2 304.27 L292.55 304.66 L292.9 304.36 L293.25 304.2 L293.6 304.06 L293.95 304.22 L294.3 304.29 L294.65 304.24 L295 304.21 L295.35 304.19 L295.7 304.26 L296.05 303.81 L296.4 304.53 L296.75 303.96 L297.1 304.2 L297.45 304.26 L297.8 304.29 L298.15 304.31 L298.5 304.27 L298.85 304.5 L299.2 304.14 L299.55 304.69 L299.9 304.44 L300.25 304.77 L300.6 304.72 L300.95 304.73 L301.3 304.78 L301.65 304.8 L302 304.35 L302.35 304.47 L302.7 304.58 L303.05 304.31 L303.4 304.8 L303.75 304.18 L304.1 304.7 L304.45 304.18 L304.8 303.96 L305.15 304.6 L305.5 303.92 L305.85 304.2 L306.2 304.52 L306.55 304.5 L306.7 304.4" fill="none" stroke="#1e1e1e" stroke-width="1.2" stroke-linejoin="round"/>
<rect x="270" y="194.5" width="37.2" height="110.3" fill="none" stroke="#6e6e6e" stroke-width="1.5"/>
<line x1="270" y1="268.03" x2="271.6" y2="268.03" stroke="#333" stroke-width="0.8"/>
<line x1="270" y1="231.27" x2="271.6" y2="231.27" stroke="#333" stroke-width="0.8"/>
<line x1="270" y1="194.5" x2="271.6" y2="194.5" stroke="#333" stroke-width="0.8"/>
<text x="270" y="310.4" font-size="5.2" font-family="'Liberation Serif', 'Times New Roman', serif" font-weight="normal" fill="#222" text-anchor="middle" stroke="#222" stroke-width="0.15">0</text>
<text x="282.4" y="310.4" font-size="5.2" font-family="'Liberation Serif', 'Times New Roman', serif" font-weight="normal" fill="#222" text-anchor="middle" stroke="#222" stroke-width="0.15">10</text>
<text x="294.8" y="310.4" font-size="5.2" font-family="'Liberation Serif', 'Times New Roman', serif" font-weight="normal" fill="#222" text-anchor="middle" stroke="#222" stroke-width="0.15">20</text>
<text x="307.2" y="310.4" font-size="5.2" font-family="'Liberation Serif', 'Times New Roman', serif" font-weight="normal" fill="#222" text-anchor="middle" stroke="#222" stroke-width="0.15">30</text>
<text x="269" y="306.1" font-size="4.9" font-family="'Liberation Serif', 'Times New Roman', serif" font-weight="normal" fill="#222" text-anchor="end" stroke="#222" stroke-width="0.18">0</text>
<text x="269" y="269.33" font-size="4.9" font-family="'Liberation Serif', 'Times New Roman', serif" font-weight="normal" fill="#222" text-anchor="end" stroke="#222" stroke-width="0.18">100</text>
<text x="269" y="232.57" font-size="4.9" font-family="'Liberation Serif', 'Times New Roman', serif" font-weight="normal" fill="#222" text-anchor="end" stroke="#222" stroke-width="0.18">200</text>
<text x="269" y="195.8" font-size="4.9" font-family="'Liberation Serif', 'Times New Roman', serif" font-weight="normal" fill="#222" text-anchor="end" stroke="#222" stroke-width="0.18">300</text>
<line x1="319.3" y1="268.03" x2="356.3" y2="268.03" stroke="#bcbcbc" stroke-width="0.8"/>
<line x1="319.3" y1="231.27" x2="356.3" y2="231.27" stroke="#bcbcbc" stroke-width="0.8"/>
<line x1="331.63" y1="304.8" x2="331.63" y2="303.5" stroke="#555" stroke-width="0.6"/>
<line x1="343.97" y1="304.8" x2="343.97" y2="303.5" stroke="#555" stroke-width="0.6"/>
<path d="M319.8 304.6 L320.15 304.6 L320.5 304.6 L320.85 304.59 L321.2 304.58 L321.55 304.56 L321.9 304.54 L322.25 304.52 L322.6 304.22 L322.95 300.15 L323.3 294.42 L323.65 290.64 L324 287.5 L324.35 285.19 L324.7 284.61 L325.05 284.76 L325.4 285.03 L325.75 285.35 L326.1 285.73 L326.45 286.25 L326.8 286.83 L327.15 287.44 L327.5 288 L327.85 288.53 L328.2 289.05 L328.55 289.57 L328.9 290.06 L329.25 290.54 L329.6 291.01 L329.95 291.47 L330.3 291.92 L330.65 292.36 L331 292.77 L331.35 293.15 L331.7 293.5 L332.05 293.82 L332.4 294.12 L332.75 294.41 L333.1 294.69 L333.45 294.96 L333.8 295.23 L334.15 295.5 L334.5 295.78 L334.85 296.07 L335.2 296.36 L335.55 296.66 L335.9 296.95 L336.25 297.24 L336.6 297.52 L336.95 297.79 L337.3 298.05 L337.65 298.29 L338 298.5 L338.35 298.7 L338.7 298.88 L339.05 299.05 L339.4 299.21 L339.75 299.37 L340.1 299.59 L340.45 299.48 L340.8 299.97 L341.15 300.19 L341.5 299.7 L341.85 300.37 L342.2 300.66 L342.55 300.85 L342.9 300.67 L343.25 300.69 L343.6 301.01 L343.95 301.49 L344.3 301.48 L344.65 301.56 L345 301.51 L345.35 301.5 L345.7 301.51 L346.05 302.21 L346.4 301.88 L346.75 302.3 L347.1 303.15 L347.45 301.99 L347.8 303.18 L348.15 302.53 L348.5 302.84 L348.85 302.79 L349.2 303.07 L349.55 303.44 L349.9 303.34 L350.25 303.93 L350.6 302.93 L350.95 303.8 L351.3 303.24 L351.65 303.01 L352 303.17 L352.35 302.44 L352.7 303.86 L353.05 303.94 L353.4 303.12 L353.75 302.89 L354.1 303.99 L354.45 304.03 L354.8 304.71 L355.15 303.88 L355.5 304.64 L355.8 304.77" fill="none" stroke="#1e1e1e" stroke-width="1.2" stroke-linejoin="round"/>
<rect x="319.3" y="194.5" width="37" height="110.3" fill="none" stroke="#6e6e6e" stroke-width="1.5"/>
<line x1="319.3" y1="268.03" x2="320.9" y2="268.03" stroke="#333" stroke-width="0.8"/>
<line x1="319.3" y1="231.27" x2="320.9" y2="231.27" stroke="#333" stroke-width="0.8"/>
<line x1="319.3" y1="194.5" x2="320.9" y2="194.5" stroke="#333" stroke-width="0.8"/>
<text x="319.3" y="310.4" font-size="5.2" font-family="'Liberation Serif', 'Times New Roman', serif" font-weight="normal" fill="#222" text-anchor="middle" stroke="#222" stroke-width="0.15">0</text>
<text x="331.63" y="310.4" font-size="5.2" font-family="'Liberation Serif', 'Times New Roman', serif" font-weight="normal" fill="#222" text-anchor="middle" stroke="#222" stroke-width="0.15">10</text>
<text x="343.97" y="310.4" font-size="5.2" font-family="'Liberation Serif', 'Times New Roman', serif" font-weight="normal" fill="#222" text-anchor="middle" stroke="#222" stroke-width="0.15">20</text>
<text x="356.3" y="310.4" font-size="5.2" font-family="'Liberation Serif', 'Times New Roman', serif" font-weight="normal" fill="#222" text-anchor="middle" stroke="#222" stroke-width="0.15">30</text>
<line x1="383.5" y1="268.03" x2="420.7" y2="268.03" stroke="#bcbcbc" stroke-width="0.8"/>
<line x1="383.5" y1="231.27" x2="420.7" y2="231.27" stroke="#bcbcbc" stroke-width="0.8"/>
<line x1="395.9" y1="304.8" x2="395.9" y2="303.5" stroke="#555" stroke-width="0.6"/>
<line x1="408.3" y1="304.8" x2="408.3" y2="303.5" stroke="#555" stroke-width="0.6"/>
<path d="M384 304.6 L384.35 304.59 L384.7 304.58 L385.05 304.55 L385.4 304.51 L385.75 304.45 L386.1 303.62 L386.45 291.4 L386.8 271.41 L387.15 252.54 L387.5 231.21 L387.85 211.89 L388.2 206.57 L388.55 207.8 L388.9 210.26 L389.25 213.51 L389.6 217.15 L389.95 220.75 L390.3 223.89 L390.65 226.16 L391 227.87 L391.35 229.36 L391.7 230.72 L392.05 232.01 L392.4 233.3 L392.75 234.65 L393.1 236.14 L393.45 237.77 L393.8 239.49 L394.15 241.21 L394.5 242.87 L394.85 244.4 L395.2 245.75 L395.55 247 L395.9 248.16 L396.25 249.27 L396.6 250.34 L396.95 251.42 L397.3 252.5 L397.65 253.63 L398 254.84 L398.35 256.1 L398.7 257.41 L399.05 258.7 L399.4 259.95 L399.75 261.12 L400.1 261.81 L400.45 262.95 L400.8 265.49 L401.15 266.21 L401.5 265 L401.85 266.61 L402.2 266.36 L402.55 267.39 L402.9 266.91 L403.25 269.01 L403.6 269.14 L403.95 271.2 L404.3 271.37 L404.65 271.85 L405 274.03 L405.35 273.41 L405.7 274.13 L406.05 273.98 L406.4 275.13 L406.75 273.95 L407.1 276.71 L407.45 277.22 L407.8 275.53 L408.15 279.01 L408.5 279.73 L408.85 278.12 L409.2 275.35 L409.55 275.51 L409.9 278.82 L410.25 282.35 L410.6 281.14 L410.95 281.52 L411.3 279.37 L411.65 278.91 L412 280.87 L412.35 277.93 L412.7 279.97 L413.05 281.69 L413.4 280.79 L413.75 282.76 L414.1 280.89 L414.45 284.69 L414.8 285.13 L415.15 281.94 L415.5 283.05 L415.85 285.97 L416.2 289.57 L416.55 289 L416.9 288.43 L417.25 288.02 L417.6 289.12 L417.95 289.71 L418.3 286.15 L418.65 283.82 L419 289 L419.35 287.55 L419.7 288.68 L420.05 288.17 L420.2 286.61" fill="none" stroke="#1e1e1e" stroke-width="1.2" stroke-linejoin="round"/>
<rect x="383.5" y="194.5" width="37.2" height="110.3" fill="none" stroke="#6e6e6e" stroke-width="1.5"/>
<line x1="383.5" y1="268.03" x2="385.1" y2="268.03" stroke="#333" stroke-width="0.8"/>
<line x1="383.5" y1="231.27" x2="385.1" y2="231.27" stroke="#333" stroke-width="0.8"/>
<line x1="383.5" y1="194.5" x2="385.1" y2="194.5" stroke="#333" stroke-width="0.8"/>
<text x="383.5" y="310.4" font-size="5.2" font-family="'Liberation Serif', 'Times New Roman', serif" font-weight="normal" fill="#222" text-anchor="middle" stroke="#222" stroke-width="0.15">0</text>
<text x="395.9" y="310.4" font-size="5.2" font-family="'Liberation Serif', 'Times New Roman', serif" font-weight="normal" fill="#222" text-anchor="middle" stroke="#222" stroke-width="0.15">10</text>
<text x="408.3" y="310.4" font-size="5.2" font-family="'Liberation Serif', 'Times New Roman', serif" font-weight="normal" fill="#222" text-anchor="middle" stroke="#222" stroke-width="0.15">20</text>
<text x="420.7" y="310.4" font-size="5.2" font-family="'Liberation Serif', 'Times New Roman', serif" font-weight="normal" fill="#222" text-anchor="middle" stroke="#222" stroke-width="0.15">30</text>
<line x1="430.3" y1="268.03" x2="467.4" y2="268.03" stroke="#bcbcbc" stroke-width="0.8"/>
<line x1="430.3" y1="231.27" x2="467.4" y2="231.27" stroke="#bcbcbc" stroke-width="0.8"/>
<line x1="442.67" y1="304.8" x2="442.67" y2="303.5" stroke="#555" stroke-width="0.6"/>
<line x1="455.03" y1="304.8" x2="455.03" y2="303.5" stroke="#555" stroke-width="0.6"/>
<path d="M431 304.6 L431.35 304.58 L431.7 304.53 L432.05 304.45 L432.4 301.47 L432.75 286.23 L433.1 265.7 L433.45 246.71 L433.8 223.47 L434.15 206.09 L434.5 204.45 L434.85 207.56 L435.2 212.31 L435.55 217.45 L435.9 221.72 L436.25 224.48 L436.6 226.84 L436.95 228.95 L437.3 230.87 L437.65 232.65 L438 234.3 L438.35 235.82 L438.7 237.26 L439.05 238.63 L439.4 239.95 L439.75 241.26 L440.1 242.59 L440.45 244.03 L440.8 245.54 L441.15 247.01 L441.5 248.34 L441.85 249.43 L442.2 254.33 L442.55 252.51 L442.9 251.94 L443.25 253.9 L443.6 247.38 L443.95 249.46 L444.3 254.44 L444.65 260.73 L445 254.31 L445.35 249.92 L445.7 250.11 L446.05 257.9 L446.4 252.64 L446.75 253.21 L447.1 260.02 L447.45 255.83 L447.8 256.77 L448.15 256.26 L448.5 262.66 L448.85 263.2 L449.2 257.27 L449.55 254.96 L449.9 258.48 L450.25 263.99 L450.6 260.03 L450.95 255.04 L451.3 264.09 L451.65 266.17 L452 262.99 L452.35 263.76 L452.7 262.81 L453.05 260.39 L453.4 259.64 L453.75 254.1 L454.1 253.63 L454.45 251.69 L454.8 260.5 L455.15 260.54 L455.5 259.71 L455.85 261.36 L456.2 260.72 L456.55 255.52 L456.9 259.78 L457.25 258.5 L457.6 258.56 L457.95 250.67 L458.3 257.27 L458.65 262.89 L459 257.88 L459.35 257.53 L459.7 254.33 L460.05 258.81 L460.4 269.03 L460.75 259.87 L461.1 267.61 L461.45 264.46 L461.8 270.13 L462.15 262.39 L462.5 269.57 L462.85 271.47 L463.2 271.19 L463.55 263.6 L463.9 266.19 L464.25 263.06 L464.6 268.15 L464.95 266.93 L465.3 267.38 L465.65 274.7 L466 264.81 L466.35 266.52 L466.7 270.3 L466.8 272.11" fill="none" stroke="#1e1e1e" stroke-width="1.2" stroke-linejoin="round"/>
<rect x="430.3" y="194.5" width="37.1" height="110.3" fill="none" stroke="#6e6e6e" stroke-width="1.5"/>
<line x1="430.3" y1="268.03" x2="431.9" y2="268.03" stroke="#333" stroke-width="0.8"/>
<line x1="430.3" y1="231.27" x2="431.9" y2="231.27" stroke="#333" stroke-width="0.8"/>
<line x1="430.3" y1="194.5" x2="431.9" y2="194.5" stroke="#333" stroke-width="0.8"/>
<text x="430.3" y="310.4" font-size="5.2" font-family="'Liberation Serif', 'Times New Roman', serif" font-weight="normal" fill="#222" text-anchor="middle" stroke="#222" stroke-width="0.15">0</text>
<text x="442.67" y="310.4" font-size="5.2" font-family="'Liberation Serif', 'Times New Roman', serif" font-weight="normal" fill="#222" text-anchor="middle" stroke="#222" stroke-width="0.15">10</text>
<text x="455.03" y="310.4" font-size="5.2" font-family="'Liberation Serif', 'Times New Roman', serif" font-weight="normal" fill="#222" text-anchor="middle" stroke="#222" stroke-width="0.15">20</text>
<text x="467.4" y="310.4" font-size="5.2" font-family="'Liberation Serif', 'Times New Roman', serif" font-weight="normal" fill="#222" text-anchor="middle" stroke="#222" stroke-width="0.15">30</text>
<line x1="478" y1="268.03" x2="515.1" y2="268.03" stroke="#bcbcbc" stroke-width="0.8"/>
<line x1="478" y1="231.27" x2="515.1" y2="231.27" stroke="#bcbcbc" stroke-width="0.8"/>
<line x1="490.37" y1="304.8" x2="490.37" y2="303.5" stroke="#555" stroke-width="0.6"/>
<line x1="502.73" y1="304.8" x2="502.73" y2="303.5" stroke="#555" stroke-width="0.6"/>
<path d="M478.5 304.6 L478.85 304.6 L479.2 304.58 L479.55 304.56 L479.9 304.52 L480.25 296.77 L480.6 281.61 L480.95 265.34 L481.3 252.9 L481.65 247.64 L482 243.58 L482.35 240.4 L482.7 238.29 L483.05 237.41 L483.4 237.72 L483.75 238.81 L484.1 240.51 L484.45 242.65 L484.8 245.04 L485.15 247.53 L485.5 249.93 L485.85 252.15 L486.2 254.62 L486.55 257.29 L486.9 260.01 L487.25 262.59 L487.6 264.89 L487.95 266.76 L488.3 268.41 L488.65 269.92 L489 271.32 L489.35 272.61 L489.7 273.83 L490.05 276.37 L490.4 276.61 L490.75 279.71 L491.1 280.58 L491.45 278.85 L491.8 280.07 L492.15 280.51 L492.5 280.61 L492.85 282.51 L493.2 281.49 L493.55 284.02 L493.9 283.55 L494.25 284.62 L494.6 286.15 L494.95 287.54 L495.3 285.45 L495.65 287.97 L496 288.86 L496.35 288.23 L496.7 290.97 L497.05 288.63 L497.4 288.2 L497.75 289.25 L498.1 288.59 L498.45 291.3 L498.8 289.35 L499.15 291.21 L499.5 287.79 L499.85 289.25 L500.2 293.16 L500.55 290.07 L500.9 294.05 L501.25 292.23 L501.6 294.9 L501.95 295.85 L502.3 294.76 L502.65 294.19 L503 295.55 L503.35 298.08 L503.7 296.9 L504.05 296.96 L504.4 296.79 L504.75 297.02 L505.1 296.14 L505.45 294.85 L505.8 297.62 L506.15 296.81 L506.5 293.35 L506.85 295.99 L507.2 297.53 L507.55 298.72 L507.9 293.23 L508.25 295.71 L508.6 297.66 L508.95 299.15 L509.3 297.91 L509.65 300.64 L510 299.35 L510.35 299.75 L510.7 298.96 L511.05 300.28 L511.4 299.13 L511.75 299.45 L512.1 299.39 L512.45 301.37 L512.8 302.62 L513.15 299.63 L513.5 298.68 L513.85 298.79 L514.2 298.7 L514.55 295.19 L514.6 298.99" fill="none" stroke="#1e1e1e" stroke-width="1.2" stroke-linejoin="round"/>
<rect x="478" y="194.5" width="37.1" height="110.3" fill="none" stroke="#6e6e6e" stroke-width="1.5"/>
<line x1="478" y1="268.03" x2="479.6" y2="268.03" stroke="#333" stroke-width="0.8"/>
<line x1="478" y1="231.27" x2="479.6" y2="231.27" stroke="#333" stroke-width="0.8"/>
<line x1="478" y1="194.5" x2="479.6" y2="194.5" stroke="#333" stroke-width="0.8"/>
<text x="478" y="310.4" font-size="5.2" font-family="'Liberation Serif', 'Times New Roman', serif" font-weight="normal" fill="#222" text-anchor="middle" stroke="#222" stroke-width="0.15">0</text>
<text x="490.37" y="310.4" font-size="5.2" font-family="'Liberation Serif', 'Times New Roman', serif" font-weight="normal" fill="#222" text-anchor="middle" stroke="#222" stroke-width="0.15">10</text>
<text x="502.73" y="310.4" font-size="5.2" font-family="'Liberation Serif', 'Times New Roman', serif" font-weight="normal" fill="#222" text-anchor="middle" stroke="#222" stroke-width="0.15">20</text>
<text x="515.1" y="310.4" font-size="5.2" font-family="'Liberation Serif', 'Times New Roman', serif" font-weight="normal" fill="#222" text-anchor="middle" stroke="#222" stroke-width="0.15">30</text>
<text transform="translate(257.0 248) rotate(-90)" font-size="5.0" font-family="'Liberation Serif', 'Times New Roman', serif" fill="#333" stroke="#333" stroke-width="0.1" text-anchor="middle" textLength="31.2" lengthAdjust="spacingAndGlyphs">Thrombin [nM]</text>
<rect x="270" y="47.4" width="245.3" height="11.7" fill="#858585" stroke="#505050" stroke-width="1.3"/>
<text x="380.3" y="54.8" font-size="5.9" font-family="'Liberation Sans', Arial, sans-serif" font-weight="normal" fill="#111" text-anchor="start" textLength="17.7" lengthAdjust="spacingAndGlyphs" stroke="#111" stroke-width="0.2">PCC50</text>
<text x="398.2" y="55.9" font-size="3.8" font-family="'Liberation Sans', Arial, sans-serif" font-weight="normal" fill="#111" text-anchor="start" textLength="6.2" lengthAdjust="spacingAndGlyphs" stroke="#111" stroke-width="0.15">OKC</text>
<rect x="270" y="182.4" width="245.3" height="12.1" fill="#ffffff" stroke="#505050" stroke-width="1.3"/>
<text x="380.1" y="190.3" font-size="5.9" font-family="'Liberation Sans', Arial, sans-serif" font-weight="normal" fill="#111" text-anchor="start" textLength="16.2" lengthAdjust="spacingAndGlyphs" stroke="#111" stroke-width="0.2">PCC50</text>
<text x="396.6" y="191.5" font-size="3.8" font-family="'Liberation Sans', Arial, sans-serif" font-weight="normal" fill="#111" text-anchor="start" textLength="9.4" lengthAdjust="spacingAndGlyphs" stroke="#111" stroke-width="0.15">OKC+</text>
</svg>
</body></html>
